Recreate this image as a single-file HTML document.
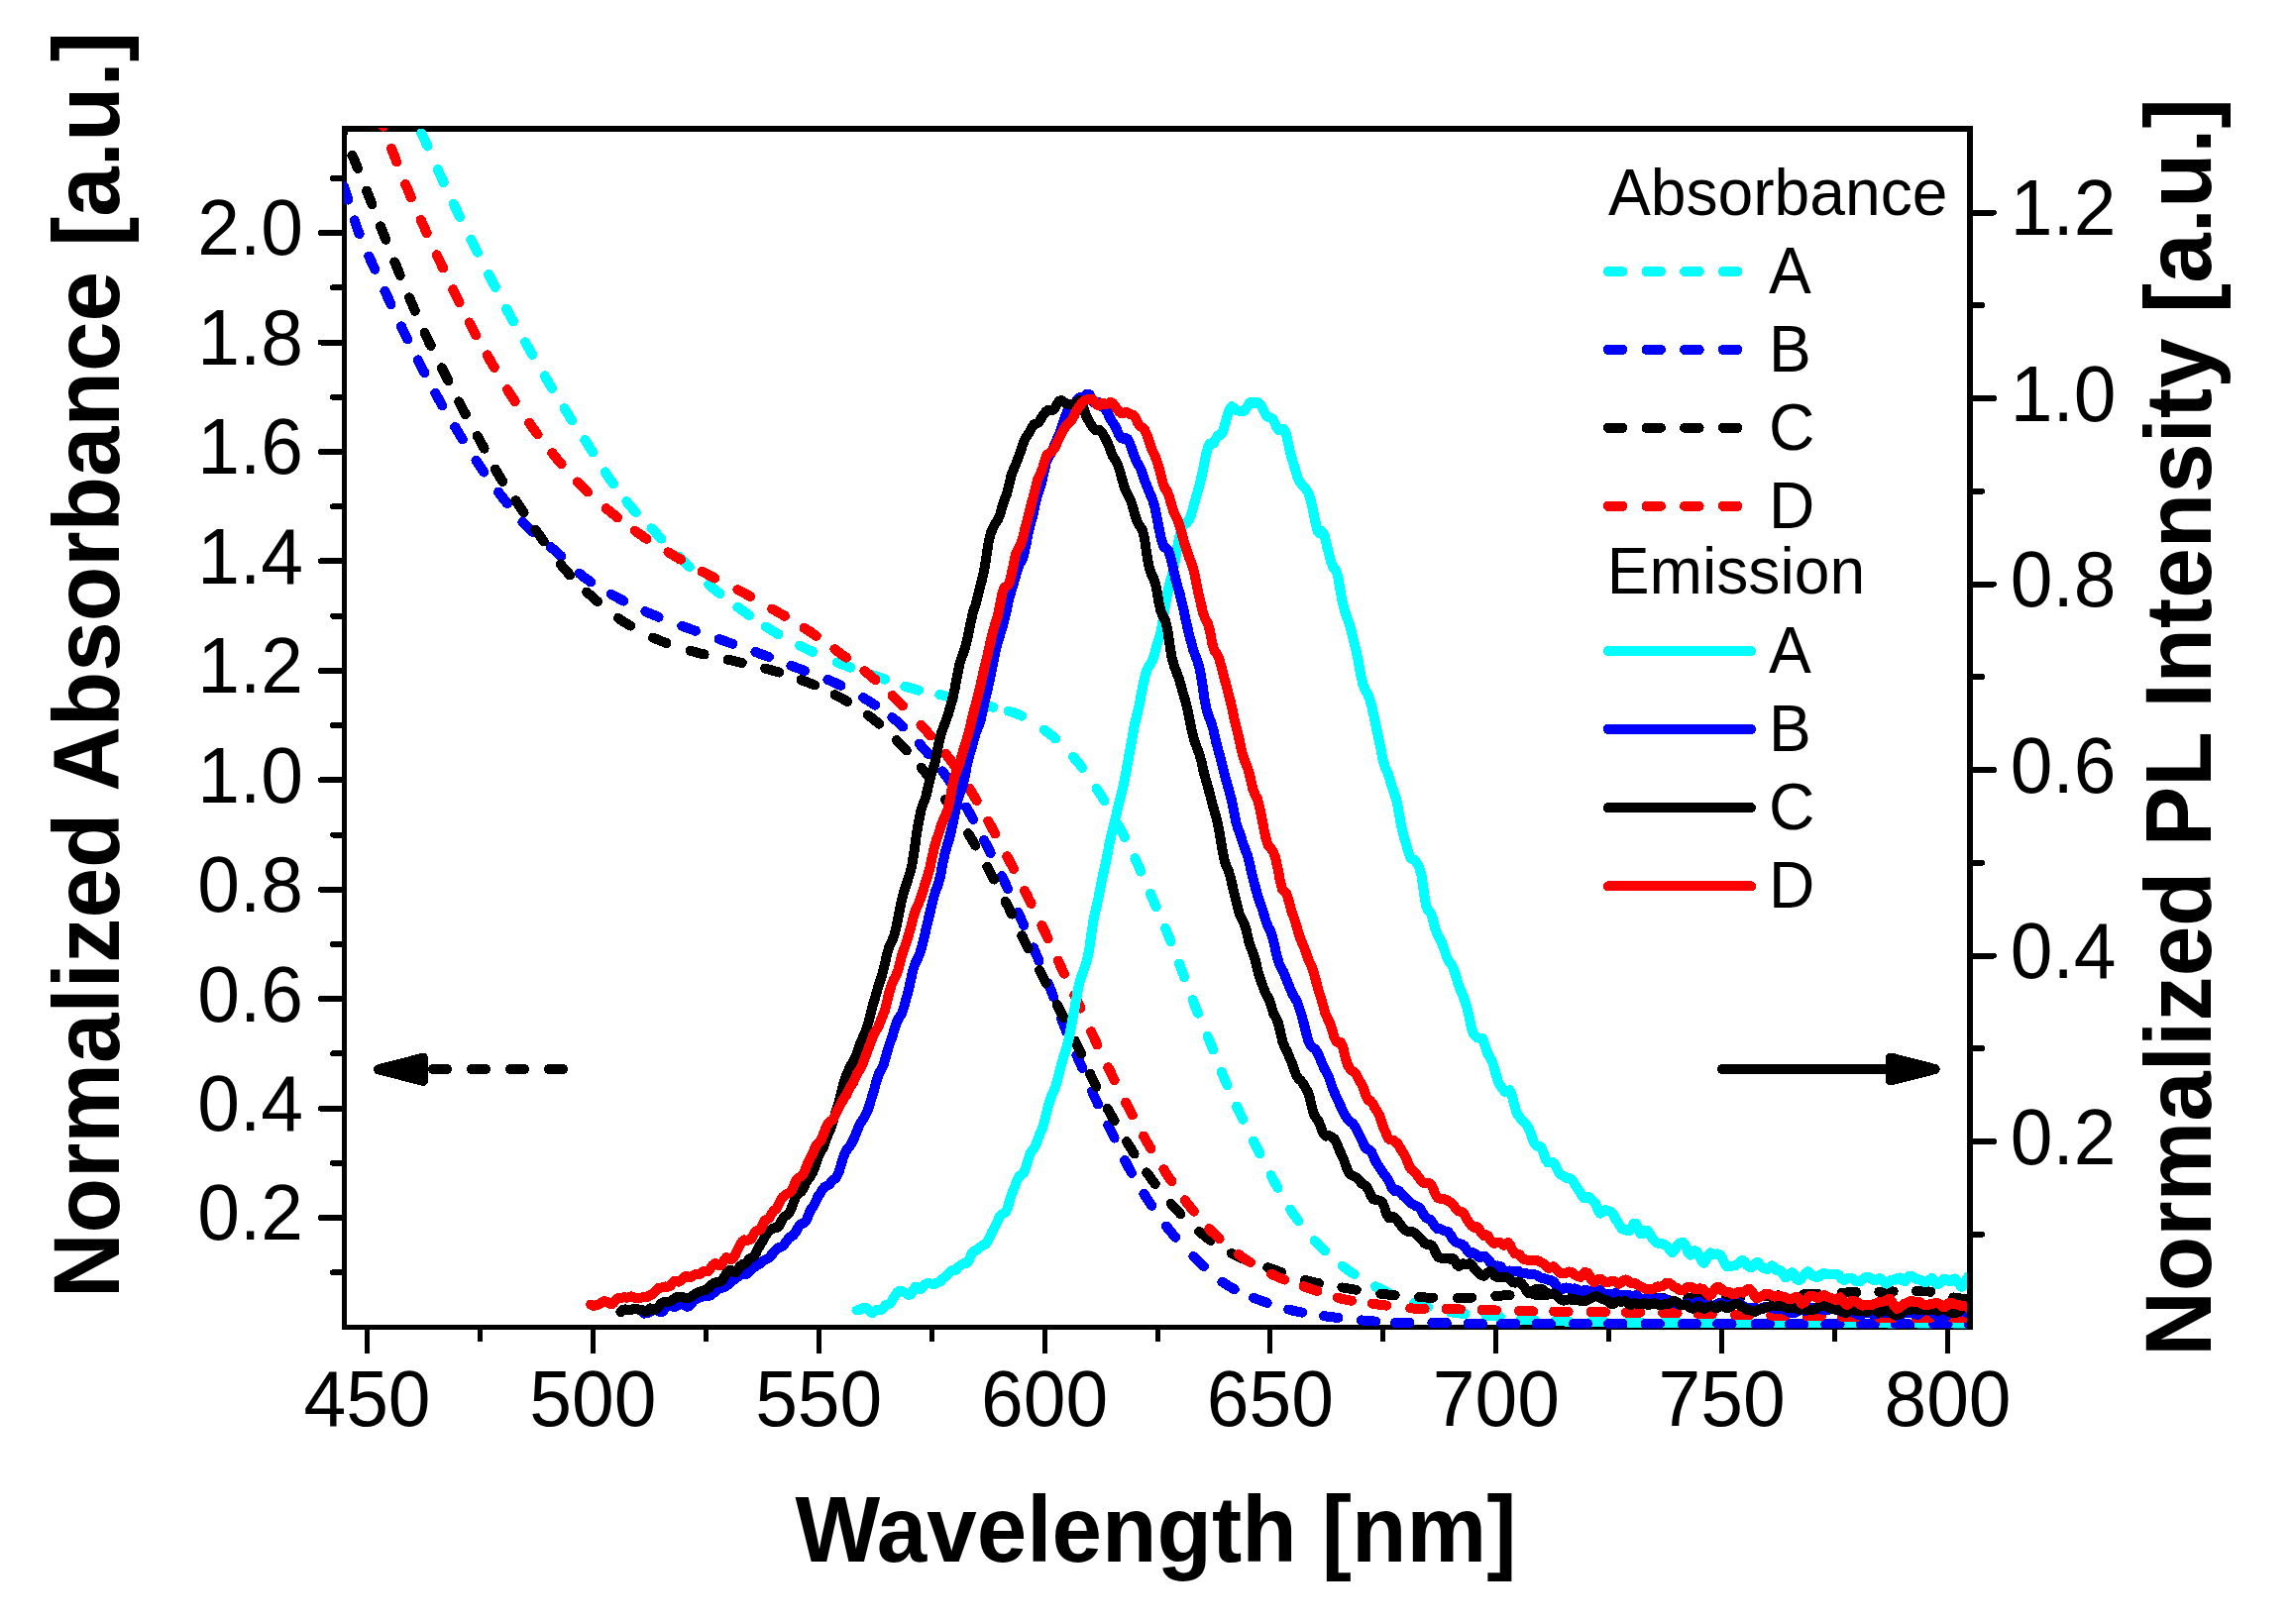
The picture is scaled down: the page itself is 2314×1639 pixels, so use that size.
<!DOCTYPE html>
<html><head><meta charset="utf-8"><title>Normalized Absorbance and PL Intensity vs Wavelength</title>
<style>
html,body{margin:0;padding:0;background:#fff;}
svg{display:block;}
text{font-family:"Liberation Sans",Arial,Helvetica,sans-serif;fill:#000;}
.tk{font-size:76.8px;}
.lg{font-size:64.2px;}
.ax{font-size:90.8px;font-weight:bold;}
.c{fill:none;stroke-width:10;stroke-linecap:round;stroke-linejoin:round;}
.th{stroke:#000;stroke-width:6;stroke-linecap:round;fill:none;}
.tv{stroke:#000;stroke-width:5;stroke-linecap:butt;fill:none;}
</style></head><body>
<svg width="2314" height="1639" viewBox="0 0 2314 1639" shape-rendering="crispEdges">
<rect width="2314" height="1639" fill="#fff"/>
<defs><clipPath id="cp"><rect x="347" y="129" width="1638" height="1211.4"/></clipPath></defs>

<g fill="#000"><rect x="345" y="127" width="5" height="1215"/><rect x="1985" y="127" width="6" height="1215"/><rect x="345" y="127" width="1646" height="6"/><rect x="345" y="1337" width="1646" height="5"/></g>
<path class="th" d="M347,1229.1 H323.9 M347,1118.6 H323.9 M347,1008.2 H323.9 M347,897.7 H323.9 M347,787.3 H323.9 M347,676.9 H323.9 M347,566.4 H323.9 M347,456.0 H323.9 M347,345.5 H323.9 M347,235.1 H323.9 M347,1284.3 H336 M347,1173.8 H336 M347,1063.4 H336 M347,953.0 H336 M347,842.5 H336 M347,732.1 H336 M347,621.6 H336 M347,511.2 H336 M347,400.8 H336 M347,290.3 H336 M347,179.9 H336 M1988,1152.0 H2011.9 M1988,964.5 H2011.9 M1988,777.0 H2011.9 M1988,589.5 H2011.9 M1988,402.0 H2011.9 M1988,214.5 H2011.9 M1988,1245.8 H2000 M1988,1058.2 H2000 M1988,870.8 H2000 M1988,683.2 H2000 M1988,495.8 H2000 M1988,308.2 H2000"/>
<path class="tv" d="M370.5,1340 V1366 M598.4,1340 V1366 M826.2,1340 V1366 M1054.1,1340 V1366 M1281.9,1340 V1366 M1509.8,1340 V1366 M1737.6,1340 V1366 M1965.5,1340 V1366 M484.4,1340 V1354 M712.3,1340 V1354 M940.1,1340 V1354 M1168.0,1340 V1354 M1395.8,1340 V1354 M1623.7,1340 V1354 M1851.5,1340 V1354"/>
<text class="tk" transform="translate(370.5,1439.3) scale(1,1.035)" text-anchor="middle">450</text>
<text class="tk" transform="translate(598.4,1439.3) scale(1,1.035)" text-anchor="middle">500</text>
<text class="tk" transform="translate(826.2,1439.3) scale(1,1.035)" text-anchor="middle">550</text>
<text class="tk" transform="translate(1054.1,1439.3) scale(1,1.035)" text-anchor="middle">600</text>
<text class="tk" transform="translate(1281.9,1439.3) scale(1,1.035)" text-anchor="middle">650</text>
<text class="tk" transform="translate(1509.8,1439.3) scale(1,1.035)" text-anchor="middle">700</text>
<text class="tk" transform="translate(1737.6,1439.3) scale(1,1.035)" text-anchor="middle">750</text>
<text class="tk" transform="translate(1965.5,1439.3) scale(1,1.035)" text-anchor="middle">800</text>
<text class="tk" transform="translate(306.0,1251.4) scale(1,1.035)" text-anchor="end">0.2</text>
<text class="tk" transform="translate(306.0,1140.9) scale(1,1.035)" text-anchor="end">0.4</text>
<text class="tk" transform="translate(306.0,1030.5) scale(1,1.035)" text-anchor="end">0.6</text>
<text class="tk" transform="translate(306.0,920.0) scale(1,1.035)" text-anchor="end">0.8</text>
<text class="tk" transform="translate(306.0,809.6) scale(1,1.035)" text-anchor="end">1.0</text>
<text class="tk" transform="translate(306.0,699.2) scale(1,1.035)" text-anchor="end">1.2</text>
<text class="tk" transform="translate(306.0,588.7) scale(1,1.035)" text-anchor="end">1.4</text>
<text class="tk" transform="translate(306.0,478.3) scale(1,1.035)" text-anchor="end">1.6</text>
<text class="tk" transform="translate(306.0,367.8) scale(1,1.035)" text-anchor="end">1.8</text>
<text class="tk" transform="translate(306.0,257.4) scale(1,1.035)" text-anchor="end">2.0</text>
<text class="tk" transform="translate(2028.8,1174.6) scale(1,1.035)">0.2</text>
<text class="tk" transform="translate(2028.8,987.1) scale(1,1.035)">0.4</text>
<text class="tk" transform="translate(2028.8,799.6) scale(1,1.035)">0.6</text>
<text class="tk" transform="translate(2028.8,612.1) scale(1,1.035)">0.8</text>
<text class="tk" transform="translate(2028.8,424.6) scale(1,1.035)">1.0</text>
<text class="tk" transform="translate(2028.8,237.1) scale(1,1.035)">1.2</text>
<text class="ax" transform="translate(1166.5,1575.9) scale(1,1.035)" text-anchor="middle">Wavelength [nm]</text>
<text class="ax" transform="translate(120.2,671.0) rotate(-90) scale(1,1.035)" text-anchor="middle">Normalized Absorbance [a.u.]</text>
<text class="ax" transform="translate(2231.2,734.0) rotate(-90) scale(1,1.035)" text-anchor="middle">Normalized PL Intensity [a.u.]</text>
<g clip-path="url(#cp)">
<path class="c" stroke="#00ffff" d="M425.1,134.5 L426.2,136.6 L427.3,138.8 L428.4,140.9 L429.4,143.1 L430.5,145.3 L431.5,147.4 L431.5,147.5 M441.8,171.0 L442.7,173.2 L443.7,175.3 L444.7,177.5 L445.7,179.7 L446.7,181.9 L447.7,184.1 L447.7,184.2 M457.8,205.8 L458.8,208.0 L459.8,210.2 L460.9,212.3 L461.9,214.5 L463.0,216.7 L464.0,218.8 L464.1,218.9 M475.4,241.7 L476.5,243.9 L477.6,246.0 L478.7,248.2 L479.8,250.3 L480.8,252.4 L481.9,254.6 L481.9,254.7 M493.2,277.0 L494.3,279.2 L495.4,281.3 L496.5,283.5 L497.6,285.6 L498.7,287.7 L499.8,289.9 L499.8,290.0 M511.1,311.7 L512.2,313.8 L513.3,315.9 L514.5,318.0 L515.6,320.1 L516.8,322.2 L518.0,324.3 L518.0,324.4 M530.0,345.3 L531.2,347.4 L532.4,349.5 L533.6,351.6 L534.8,353.6 L536.0,355.7 L537.2,357.8 L537.2,357.9 M549.6,379.4 L550.8,381.4 L552.0,383.5 L553.3,385.5 L554.5,387.6 L555.7,389.7 L557.0,391.7 L557.0,391.8 M569.5,412.2 L570.8,414.2 L572.1,416.2 L573.4,418.2 L574.7,420.3 L576.0,422.3 L577.3,424.3 L577.3,424.4 M590.3,444.1 L591.7,446.1 L593.0,448.2 L594.3,450.2 L595.6,452.2 L596.8,454.2 L598.1,456.3 L598.2,456.3 M610.7,476.4 L612.0,478.4 L613.3,480.4 L614.7,482.3 L616.0,484.3 L617.4,486.3 L618.8,488.2 L618.9,488.3 M632.4,506.1 L633.9,508.0 L635.4,509.8 L637.0,511.6 L638.5,513.5 L640.1,515.3 L641.7,517.0 L641.8,517.1 M657.4,533.3 L659.1,535.0 L660.8,536.7 L662.5,538.5 L664.1,540.2 L665.8,541.9 L667.5,543.6 L667.5,543.7 M685.4,562.0 L687.1,563.7 L688.8,565.4 L690.6,567.1 L692.3,568.7 L694.0,570.4 L695.8,572.1 L695.8,572.1 M715.2,589.9 L717.0,591.5 L718.8,593.0 L720.7,594.6 L722.5,596.1 L724.4,597.6 L726.3,599.1 L726.3,599.1 M744.4,612.6 L746.4,614.0 L748.3,615.4 L750.3,616.8 L752.2,618.2 L754.2,619.6 L756.1,621.0 L756.2,621.0 M773.0,632.5 L775.0,633.8 L777.0,635.1 L779.1,636.4 L781.1,637.6 L783.2,638.8 L785.3,640.0 L785.4,640.1 M807.1,651.6 L809.2,652.7 L811.4,653.7 L813.6,654.8 L815.7,655.8 L817.9,656.8 L820.1,657.8 L820.2,657.9 M844.8,668.6 L847.1,669.4 L849.3,670.3 L851.6,671.2 L853.8,672.0 L856.1,672.9 L858.3,673.7 L858.4,673.7 M879.7,680.9 L882.0,681.6 L884.3,682.4 L886.6,683.2 L888.8,684.0 L891.1,684.8 L893.3,685.6 L893.4,685.6 M913.4,692.7 L915.6,693.4 L917.9,694.1 L920.3,694.8 L922.6,695.4 L924.9,696.0 L927.2,696.6 L927.3,696.6 M948.2,701.1 L950.6,701.6 L952.9,702.2 L955.3,702.7 L957.6,703.2 L959.9,703.8 L962.3,704.3 L962.4,704.3 M988.3,710.4 L990.6,710.9 L992.9,711.5 L995.3,712.1 L997.6,712.7 L999.9,713.2 L1002.3,713.8 L1002.4,713.8 M1017.6,717.6 L1019.9,718.3 L1022.2,719.0 L1024.5,719.8 L1026.7,720.7 L1028.9,721.6 L1031.1,722.6 L1031.2,722.6 M1053.8,736.6 L1055.7,738.0 L1057.7,739.4 L1059.6,740.9 L1061.4,742.4 L1063.3,743.9 L1065.1,745.5 L1065.2,745.5 M1083.0,763.8 L1084.6,765.6 L1086.1,767.4 L1087.7,769.3 L1089.2,771.1 L1090.7,773.0 L1092.2,774.9 L1092.2,775.0 M1106.7,795.8 L1108.0,797.8 L1109.3,799.8 L1110.6,801.9 L1111.9,803.9 L1113.1,805.9 L1114.4,808.0 L1114.4,808.1 M1128.2,832.0 L1129.3,834.1 L1130.5,836.3 L1131.6,838.4 L1132.7,840.5 L1133.8,842.6 L1134.9,844.8 L1134.9,844.9 M1145.5,866.4 L1146.5,868.6 L1147.5,870.8 L1148.5,873.0 L1149.5,875.2 L1150.4,877.4 L1151.4,879.6 L1151.5,879.6 M1161.0,902.0 L1161.9,904.2 L1162.8,906.4 L1163.8,908.6 L1164.7,910.8 L1165.7,913.0 L1166.6,915.2 L1166.7,915.3 M1175.9,936.8 L1176.9,939.0 L1177.8,941.3 L1178.7,943.5 L1179.6,945.7 L1180.5,947.9 L1181.4,950.2 L1181.4,950.3 M1190.0,972.5 L1190.9,974.8 L1191.7,977.0 L1192.6,979.3 L1193.4,981.5 L1194.3,983.8 L1195.1,986.0 L1195.1,986.1 M1203.6,1009.2 L1204.5,1011.4 L1205.3,1013.7 L1206.2,1015.9 L1207.1,1018.1 L1208.0,1020.4 L1208.9,1022.6 L1208.9,1022.7 M1218.6,1045.9 L1219.6,1048.1 L1220.5,1050.4 L1221.4,1052.6 L1222.3,1054.8 L1223.2,1057.0 L1224.0,1059.3 L1224.1,1059.4 M1232.8,1081.8 L1233.7,1084.1 L1234.7,1086.3 L1235.6,1088.5 L1236.5,1090.7 L1237.5,1092.9 L1238.4,1095.1 L1238.5,1095.2 M1248.1,1116.6 L1249.1,1118.8 L1250.2,1121.0 L1251.2,1123.1 L1252.2,1125.3 L1253.2,1127.5 L1254.3,1129.7 L1254.3,1129.7 M1265.0,1151.5 L1266.0,1153.7 L1267.1,1155.8 L1268.2,1158.0 L1269.3,1160.1 L1270.3,1162.2 L1271.4,1164.4 L1271.4,1164.5 M1282.6,1186.2 L1283.7,1188.3 L1284.8,1190.4 L1286.0,1192.5 L1287.1,1194.6 L1288.3,1196.7 L1289.5,1198.8 L1289.5,1198.9 M1302.2,1220.5 L1303.5,1222.6 L1304.8,1224.6 L1306.2,1226.5 L1307.6,1228.5 L1309.0,1230.4 L1310.4,1232.4 L1310.5,1232.4 M1326.8,1252.2 L1328.4,1253.9 L1330.1,1255.6 L1331.8,1257.4 L1333.5,1259.0 L1335.2,1260.7 L1336.9,1262.4 L1337.0,1262.4 M1354.8,1277.7 L1356.8,1279.2 L1358.7,1280.6 L1360.7,1282.0 L1362.6,1283.3 L1364.6,1284.7 L1366.6,1286.0 L1366.7,1286.0 M1388.1,1298.4 L1390.2,1299.5 L1392.4,1300.5 L1394.6,1301.6 L1396.7,1302.6 L1398.9,1303.6 L1401.1,1304.6 L1401.2,1304.7 M1427.0,1315.2 L1429.3,1315.9 L1431.5,1316.6 L1433.9,1317.3 L1436.2,1317.9 L1438.5,1318.5 L1440.8,1319.2 L1440.9,1319.2 M1464.0,1324.2 L1466.4,1324.6 L1468.8,1324.9 L1471.2,1325.2 L1473.5,1325.5 L1475.9,1325.7 L1478.3,1325.9 L1478.4,1325.9 M1499.4,1327.5 L1501.8,1327.7 L1504.2,1327.9 L1506.6,1328.1 L1508.9,1328.3 L1511.3,1328.6 L1513.7,1328.9 L1513.8,1328.9 M1534.8,1331.4 L1537.2,1331.7 L1539.6,1331.8 L1542.0,1332.0 L1544.3,1332.1 L1546.7,1332.3 L1549.1,1332.4 L1549.2,1332.4 M1569.1,1333.2 L1571.5,1333.3 L1573.9,1333.4 L1576.3,1333.4 L1578.6,1333.5 L1581.0,1333.6 L1583.4,1333.7 L1583.5,1333.7 M1605.9,1334.1 L1608.3,1334.1 L1610.7,1334.2 L1613.1,1334.2 L1615.4,1334.2 L1617.8,1334.3 L1620.2,1334.3 L1620.3,1334.3 M1642.4,1334.6 L1644.8,1334.6 L1647.2,1334.6 L1649.6,1334.7 L1651.9,1334.7 L1654.3,1334.7 L1656.7,1334.7 L1656.8,1334.7 M1679.1,1334.9 L1681.5,1334.9 L1683.9,1334.9 L1686.3,1334.9 L1688.6,1335.0 L1691.0,1335.0 L1693.4,1335.0 L1693.5,1335.0 M1715.5,1335.0 L1717.9,1335.1 L1720.3,1335.1 L1722.7,1335.1 L1725.0,1335.1 L1727.4,1335.1 L1729.8,1335.1 L1729.9,1335.1 M1752.2,1335.2 L1754.6,1335.2 L1757.0,1335.2 L1759.4,1335.2 L1761.7,1335.2 L1764.1,1335.2 L1766.5,1335.2 L1766.6,1335.2 M1788.8,1335.3 L1791.2,1335.3 L1793.6,1335.3 L1796.0,1335.3 L1798.3,1335.3 L1800.7,1335.3 L1803.1,1335.3 L1803.2,1335.3 M1825.5,1335.3 L1827.9,1335.3 L1830.3,1335.3 L1832.7,1335.3 L1835.0,1335.3 L1837.4,1335.4 L1839.8,1335.4 L1839.9,1335.4 M1861.8,1335.4 L1864.2,1335.4 L1866.6,1335.4 L1869.0,1335.4 L1871.3,1335.4 L1873.7,1335.4 L1876.1,1335.4 L1876.2,1335.4 M1898.2,1335.4 L1900.6,1335.4 L1903.0,1335.4 L1905.4,1335.5 L1907.7,1335.5 L1910.1,1335.5 L1912.5,1335.5 L1912.6,1335.5 M1934.9,1335.5 L1937.3,1335.5 L1939.7,1335.5 L1942.1,1335.5 L1944.4,1335.5 L1946.8,1335.5 L1949.2,1335.5 L1949.3,1335.5 M1971.4,1335.5 L1973.8,1335.5 L1976.2,1335.5 L1978.6,1335.5 L1980.9,1335.5 L1983.3,1335.5 L1985.7,1335.5 L1985.8,1335.5"/>
<path class="c" stroke="#0000ff" d="M334.1,151.8 L334.9,154.1 L335.7,156.4 L336.5,158.6 L337.3,160.9 L338.1,163.2 L338.9,165.4 L338.9,165.5 M346.8,187.9 L347.6,190.1 L348.4,192.4 L349.2,194.7 L349.9,197.0 L350.7,199.3 L351.4,201.5 L351.4,201.6 M357.8,222.4 L358.5,224.7 L359.3,226.9 L360.1,229.2 L360.9,231.5 L361.7,233.7 L362.6,235.9 L362.7,236.0 M372.3,258.6 L373.3,260.8 L374.3,263.0 L375.3,265.2 L376.3,267.3 L377.2,269.5 L378.2,271.7 L378.3,271.8 M388.4,293.9 L389.5,296.1 L390.5,298.3 L391.5,300.5 L392.5,302.6 L393.5,304.8 L394.5,307.0 L394.5,307.1 M404.9,329.3 L405.9,331.5 L406.9,333.7 L408.0,335.8 L409.0,338.0 L410.1,340.2 L411.1,342.3 L411.2,342.4 M421.7,363.4 L422.8,365.6 L423.9,367.7 L425.0,369.8 L426.1,372.0 L427.2,374.1 L428.3,376.2 L428.3,376.3 M439.3,396.8 L440.4,398.9 L441.6,401.0 L442.8,403.0 L444.0,405.1 L445.1,407.2 L446.3,409.3 L446.4,409.4 M459.2,430.9 L460.5,433.0 L461.7,435.0 L463.0,437.1 L464.2,439.1 L465.5,441.1 L466.8,443.2 L466.8,443.3 M480.4,464.6 L481.7,466.6 L483.0,468.6 L484.4,470.5 L485.7,472.5 L487.1,474.5 L488.4,476.5 L488.5,476.6 M503.1,496.7 L504.5,498.7 L506.0,500.6 L507.5,502.5 L508.9,504.3 L510.4,506.2 L511.9,508.1 L512.0,508.2 M527.3,526.7 L528.9,528.5 L530.6,530.2 L532.3,531.9 L534.0,533.6 L535.7,535.3 L537.5,536.9 L537.6,537.0 M555.6,551.9 L557.4,553.5 L559.3,555.0 L561.1,556.6 L562.9,558.2 L564.6,559.8 L566.4,561.4 L566.4,561.5 M584.7,578.8 L586.6,580.3 L588.4,581.8 L590.4,583.2 L592.3,584.7 L594.3,586.0 L596.2,587.4 L596.3,587.5 M616.7,599.7 L618.8,600.9 L620.9,602.0 L623.1,603.2 L625.2,604.3 L627.3,605.4 L629.4,606.5 L629.5,606.6 M651.3,617.1 L653.5,618.1 L655.7,619.0 L657.9,620.0 L660.1,620.9 L662.3,621.8 L664.5,622.7 L664.6,622.8 M688.3,631.8 L690.5,632.6 L692.8,633.5 L695.1,634.3 L697.3,635.1 L699.6,635.9 L701.8,636.7 L701.9,636.8 M725.7,645.0 L727.9,645.8 L730.2,646.6 L732.5,647.4 L734.7,648.2 L737.0,649.0 L739.2,649.8 L739.3,649.8 M762.3,658.0 L764.5,658.8 L766.8,659.7 L769.1,660.5 L771.3,661.3 L773.5,662.2 L775.8,663.0 L775.9,663.0 M798.4,671.8 L800.7,672.6 L802.9,673.5 L805.2,674.4 L807.4,675.2 L809.6,676.1 L811.9,676.9 L812.0,677.0 M835.3,685.9 L837.5,686.9 L839.7,687.8 L841.9,688.8 L844.0,689.8 L846.2,690.8 L848.4,691.8 L848.5,691.9 M871.0,704.0 L873.1,705.3 L875.1,706.5 L877.2,707.8 L879.2,709.1 L881.2,710.3 L883.2,711.7 L883.3,711.7 M900.3,724.0 L902.2,725.5 L904.0,727.0 L905.9,728.6 L907.7,730.2 L909.5,731.8 L911.2,733.4 L911.3,733.5 M927.8,750.6 L929.4,752.4 L931.0,754.2 L932.6,756.0 L934.2,757.8 L935.7,759.6 L937.3,761.4 L937.4,761.5 M951.0,778.3 L952.4,780.2 L953.9,782.1 L955.3,784.1 L956.7,786.0 L958.0,788.0 L959.4,790.0 L959.5,790.1 M974.9,814.5 L976.2,816.5 L977.4,818.6 L978.6,820.7 L979.8,822.8 L980.9,824.9 L982.1,827.0 L982.2,827.0 M993.1,847.9 L994.2,850.1 L995.3,852.2 L996.4,854.4 L997.5,856.5 L998.5,858.6 L999.6,860.8 L999.7,860.9 M1011.0,884.1 L1012.0,886.2 L1013.1,888.4 L1014.1,890.6 L1015.1,892.8 L1016.1,894.9 L1017.1,897.1 L1017.1,897.2 M1027.4,920.7 L1028.4,922.9 L1029.3,925.1 L1030.3,927.3 L1031.2,929.5 L1032.2,931.7 L1033.2,933.9 L1033.2,934.0 M1042.9,956.3 L1043.8,958.5 L1044.7,960.8 L1045.7,963.0 L1046.6,965.2 L1047.5,967.4 L1048.5,969.6 L1048.5,969.7 M1058.0,992.7 L1058.8,994.9 L1059.7,997.2 L1060.6,999.4 L1061.4,1001.6 L1062.3,1003.9 L1063.1,1006.1 L1063.2,1006.2 M1071.0,1027.9 L1071.8,1030.1 L1072.7,1032.4 L1073.6,1034.6 L1074.5,1036.8 L1075.4,1039.0 L1076.3,1041.3 L1076.3,1041.4 M1086.4,1064.7 L1087.4,1066.9 L1088.3,1069.1 L1089.3,1071.3 L1090.2,1073.5 L1091.2,1075.7 L1092.1,1077.9 L1092.1,1078.0 M1102.0,1101.3 L1103.0,1103.5 L1104.0,1105.7 L1105.0,1107.9 L1106.0,1110.1 L1107.0,1112.3 L1108.0,1114.4 L1108.1,1114.5 M1118.3,1135.5 L1119.4,1137.7 L1120.4,1139.8 L1121.5,1142.0 L1122.5,1144.1 L1123.5,1146.3 L1124.6,1148.5 L1124.6,1148.6 M1135.2,1171.0 L1136.3,1173.2 L1137.4,1175.3 L1138.5,1177.4 L1139.6,1179.5 L1140.8,1181.6 L1141.9,1183.7 L1142.0,1183.8 M1154.4,1204.8 L1155.7,1206.8 L1157.0,1208.8 L1158.3,1210.8 L1159.6,1212.9 L1160.9,1214.9 L1162.2,1216.9 L1162.3,1216.9 M1177.0,1237.6 L1178.5,1239.5 L1180.0,1241.4 L1181.5,1243.2 L1183.0,1245.1 L1184.5,1246.9 L1186.1,1248.7 L1186.2,1248.8 M1204.3,1268.1 L1206.1,1269.8 L1207.8,1271.4 L1209.6,1273.1 L1211.3,1274.7 L1213.1,1276.3 L1214.8,1278.0 L1214.9,1278.0 M1233.4,1293.7 L1235.4,1295.1 L1237.4,1296.4 L1239.5,1297.7 L1241.5,1298.9 L1243.6,1300.0 L1245.7,1301.2 L1245.8,1301.2 M1265.1,1309.8 L1267.4,1310.7 L1269.6,1311.5 L1271.9,1312.4 L1274.1,1313.2 L1276.4,1314.0 L1278.6,1314.8 L1278.7,1314.9 M1300.1,1321.5 L1302.5,1322.1 L1304.8,1322.7 L1307.2,1323.2 L1309.5,1323.7 L1311.9,1324.2 L1314.2,1324.6 L1314.3,1324.6 M1336.0,1328.1 L1338.4,1328.5 L1340.8,1328.8 L1343.2,1329.1 L1345.5,1329.4 L1347.9,1329.7 L1350.3,1330.0 L1350.4,1330.0 M1373.7,1332.4 L1376.1,1332.6 L1378.5,1332.8 L1380.9,1333.0 L1383.2,1333.2 L1385.6,1333.4 L1388.0,1333.6 L1388.1,1333.6 M1408.1,1334.9 L1410.5,1334.9 L1412.9,1335.0 L1415.3,1335.0 L1417.6,1335.0 L1420.0,1335.0 L1422.4,1335.0 L1422.5,1335.0 M1445.4,1335.0 L1447.8,1335.0 L1450.2,1335.0 L1452.6,1335.0 L1454.9,1335.0 L1457.3,1335.1 L1459.7,1335.1 L1459.8,1335.1 M1481.7,1335.9 L1484.1,1335.9 L1486.5,1336.0 L1488.9,1336.0 L1491.2,1336.0 L1493.6,1336.0 L1496.0,1336.0 L1496.1,1336.0 M1515.1,1336.0 L1517.5,1336.0 L1519.9,1336.0 L1522.3,1336.0 L1524.6,1336.0 L1527.0,1336.0 L1529.4,1336.0 L1529.5,1336.0 M1550.5,1336.0 L1552.9,1336.0 L1555.3,1336.0 L1557.7,1336.0 L1560.0,1336.0 L1562.4,1336.0 L1564.8,1336.0 L1564.9,1336.0 M1587.8,1336.0 L1590.2,1336.0 L1592.6,1336.0 L1595.0,1336.0 L1597.3,1336.0 L1599.7,1336.0 L1602.1,1336.0 L1602.2,1336.0 M1623.2,1336.0 L1625.6,1336.0 L1628.0,1336.0 L1630.4,1336.0 L1632.7,1336.0 L1635.1,1336.0 L1637.5,1336.0 L1637.6,1336.0 M1660.5,1336.1 L1662.9,1336.1 L1665.3,1336.1 L1667.7,1336.1 L1670.0,1336.1 L1672.4,1336.1 L1674.8,1336.1 L1674.9,1336.1 M1697.8,1336.1 L1700.2,1336.1 L1702.6,1336.1 L1705.0,1336.1 L1707.3,1336.1 L1709.7,1336.1 L1712.1,1336.1 L1712.2,1336.1 M1733.2,1336.1 L1735.6,1336.1 L1738.0,1336.1 L1740.4,1336.1 L1742.7,1336.1 L1745.1,1336.1 L1747.5,1336.1 L1747.6,1336.1 M1771.5,1336.2 L1773.9,1336.2 L1776.3,1336.2 L1778.7,1336.2 L1781.0,1336.2 L1783.4,1336.2 L1785.8,1336.2 L1785.9,1336.2 M1805.8,1336.2 L1808.2,1336.2 L1810.6,1336.2 L1813.0,1336.2 L1815.3,1336.2 L1817.7,1336.2 L1820.1,1336.2 L1820.2,1336.2 M1842.2,1336.3 L1844.6,1336.3 L1847.0,1336.3 L1849.4,1336.3 L1851.7,1336.3 L1854.1,1336.3 L1856.5,1336.3 L1856.6,1336.3 M1877.5,1336.3 L1879.9,1336.3 L1882.3,1336.4 L1884.7,1336.4 L1887.0,1336.4 L1889.4,1336.4 L1891.8,1336.4 L1891.9,1336.4 M1912.9,1336.4 L1915.3,1336.4 L1917.7,1336.4 L1920.1,1336.4 L1922.4,1336.4 L1924.8,1336.4 L1927.2,1336.4 L1927.3,1336.4 M1951.2,1336.5 L1953.6,1336.5 L1956.0,1336.5 L1958.4,1336.5 L1960.7,1336.5 L1963.1,1336.5 L1965.5,1336.5 L1965.6,1336.5 M1986.8,1336.6 L1989.2,1336.6 L1991.6,1336.6 L1994.0,1336.6 L1995.0,1336.6 L1995.0,1336.6 L1995.0,1336.6 L1995.0,1336.6"/>
<path class="c" stroke="#000000" d="M340.3,121.2 L341.2,123.4 L342.1,125.7 L343.0,127.9 L343.9,130.1 L344.8,132.3 L345.7,134.5 L345.8,134.6 M355.4,156.6 L356.4,158.8 L357.3,161.0 L358.3,163.2 L359.2,165.4 L360.1,167.6 L361.0,169.9 L361.1,169.9 M370.1,192.6 L370.9,194.8 L371.8,197.0 L372.7,199.3 L373.6,201.5 L374.4,203.7 L375.3,206.0 L375.3,206.1 M384.0,228.3 L384.8,230.6 L385.7,232.8 L386.6,235.0 L387.5,237.3 L388.3,239.5 L389.2,241.7 L389.3,241.8 M398.3,264.5 L399.2,266.7 L400.1,268.9 L401.0,271.1 L401.9,273.4 L402.8,275.6 L403.7,277.8 L403.7,277.9 M413.1,300.4 L414.0,302.6 L414.9,304.8 L415.9,307.0 L416.8,309.2 L417.8,311.5 L418.7,313.7 L418.8,313.7 M428.6,335.8 L429.6,338.0 L430.6,340.2 L431.6,342.3 L432.6,344.5 L433.6,346.7 L434.7,348.8 L434.7,348.9 M445.8,371.2 L446.9,373.4 L448.0,375.5 L449.1,377.7 L450.2,379.8 L451.2,382.0 L452.3,384.1 L452.3,384.2 M463.1,405.4 L464.2,407.5 L465.3,409.6 L466.4,411.7 L467.5,413.9 L468.6,416.0 L469.8,418.1 L469.8,418.2 M481.7,440.0 L482.9,442.1 L484.0,444.2 L485.2,446.3 L486.3,448.4 L487.5,450.5 L488.6,452.6 L488.6,452.7 M499.8,473.5 L501.0,475.6 L502.2,477.7 L503.5,479.7 L504.7,481.8 L506.0,483.8 L507.3,485.8 L507.3,485.9 M520.4,505.2 L521.8,507.2 L523.1,509.2 L524.5,511.2 L525.8,513.2 L527.2,515.1 L528.5,517.1 L528.6,517.2 M540.3,534.6 L541.7,536.5 L543.1,538.5 L544.5,540.5 L545.9,542.4 L547.3,544.4 L548.6,546.3 L548.7,546.4 M565.7,569.4 L567.2,571.3 L568.7,573.1 L570.3,574.9 L571.8,576.7 L573.5,578.5 L575.1,580.3 L575.1,580.4 M592.3,597.5 L594.1,599.2 L595.9,600.8 L597.7,602.4 L599.5,604.0 L601.3,605.5 L603.1,607.1 L603.1,607.2 M623.9,623.8 L625.8,625.1 L627.8,626.5 L629.9,627.8 L631.9,629.0 L633.9,630.3 L636.0,631.5 L636.1,631.6 M659.1,643.6 L661.3,644.5 L663.5,645.5 L665.8,646.4 L668.0,647.3 L670.2,648.1 L672.5,649.0 L672.6,649.0 M696.7,656.8 L699.0,657.4 L701.3,658.1 L703.7,658.7 L706.0,659.3 L708.3,659.9 L710.6,660.4 L710.7,660.5 M734.6,665.7 L737.0,666.2 L739.3,666.7 L741.7,667.3 L744.0,667.8 L746.3,668.4 L748.7,668.9 L748.8,668.9 M772.1,674.6 L774.4,675.2 L776.7,675.8 L779.1,676.5 L781.4,677.2 L783.7,677.8 L786.0,678.5 L786.1,678.6 M808.6,686.2 L810.9,687.1 L813.1,687.9 L815.4,688.8 L817.6,689.7 L819.8,690.6 L822.0,691.5 L822.1,691.5 M842.5,701.1 L844.6,702.2 L846.7,703.3 L848.9,704.5 L851.0,705.6 L853.0,706.8 L855.1,708.0 L855.2,708.1 M875.8,721.7 L877.7,723.2 L879.7,724.6 L881.6,726.1 L883.4,727.6 L885.3,729.1 L887.2,730.6 L887.2,730.7 M904.8,747.0 L906.5,748.7 L908.2,750.5 L909.9,752.2 L911.5,753.9 L913.2,755.6 L914.8,757.4 L914.9,757.5 M929.6,774.6 L931.2,776.4 L932.7,778.3 L934.2,780.2 L935.7,782.1 L937.1,784.0 L938.6,785.9 L938.6,785.9 M953.9,807.0 L955.2,809.0 L956.6,811.0 L958.0,813.0 L959.3,814.9 L960.7,816.9 L962.1,818.9 L962.1,819.0 M977.0,841.2 L978.3,843.2 L979.5,845.2 L980.8,847.3 L982.0,849.3 L983.2,851.4 L984.4,853.5 L984.5,853.6 M996.3,874.8 L997.4,876.9 L998.5,879.0 L999.7,881.2 L1000.8,883.3 L1001.9,885.4 L1003.1,887.5 L1003.1,887.6 M1014.6,909.6 L1015.7,911.8 L1016.8,913.9 L1017.9,916.1 L1018.9,918.2 L1020.0,920.4 L1021.0,922.5 L1021.1,922.6 M1031.3,944.3 L1032.4,946.4 L1033.4,948.6 L1034.5,950.7 L1035.5,952.9 L1036.6,955.0 L1037.7,957.2 L1037.7,957.3 M1049.0,979.2 L1050.1,981.3 L1051.2,983.4 L1052.3,985.6 L1053.4,987.7 L1054.5,989.8 L1055.5,992.0 L1055.6,992.1 M1066.7,1014.0 L1067.8,1016.2 L1068.9,1018.3 L1070.0,1020.5 L1071.1,1022.6 L1072.1,1024.7 L1073.2,1026.9 L1073.2,1027.0 M1084.9,1050.5 L1085.9,1052.6 L1087.0,1054.8 L1088.0,1057.0 L1089.0,1059.2 L1090.0,1061.3 L1091.0,1063.5 L1091.0,1063.6 M1100.1,1083.7 L1101.1,1085.9 L1102.1,1088.1 L1103.2,1090.2 L1104.2,1092.4 L1105.3,1094.5 L1106.3,1096.7 L1106.4,1096.8 M1117.6,1118.6 L1118.8,1120.7 L1119.9,1122.8 L1121.1,1124.9 L1122.2,1127.0 L1123.4,1129.1 L1124.6,1131.2 L1124.6,1131.3 M1137.0,1152.2 L1138.2,1154.3 L1139.5,1156.3 L1140.8,1158.3 L1142.1,1160.4 L1143.3,1162.4 L1144.6,1164.4 L1144.7,1164.5 M1157.3,1183.3 L1158.7,1185.3 L1160.1,1187.2 L1161.5,1189.1 L1162.9,1191.1 L1164.3,1193.0 L1165.8,1194.9 L1165.8,1195.0 M1181.6,1214.7 L1183.1,1216.5 L1184.7,1218.3 L1186.4,1220.0 L1188.0,1221.8 L1189.7,1223.5 L1191.3,1225.3 L1191.4,1225.3 M1210.2,1243.1 L1212.1,1244.6 L1214.0,1246.1 L1215.9,1247.6 L1217.8,1249.0 L1219.7,1250.4 L1221.7,1251.8 L1221.8,1251.9 M1242.8,1265.0 L1244.9,1266.1 L1247.1,1267.1 L1249.3,1268.2 L1251.4,1269.2 L1253.6,1270.1 L1255.9,1271.0 L1256.0,1271.1 M1279.3,1279.3 L1281.6,1280.1 L1283.9,1280.8 L1286.2,1281.6 L1288.4,1282.4 L1290.7,1283.2 L1293.0,1283.9 L1293.0,1284.0 M1316.9,1291.9 L1319.2,1292.5 L1321.5,1293.1 L1323.9,1293.7 L1326.2,1294.2 L1328.5,1294.7 L1330.9,1295.2 L1331.0,1295.2 M1354.4,1299.4 L1356.8,1299.8 L1359.2,1300.2 L1361.6,1300.6 L1363.9,1301.0 L1366.3,1301.4 L1368.7,1301.8 L1368.7,1301.8 M1393.3,1305.7 L1395.7,1306.0 L1398.1,1306.2 L1400.5,1306.5 L1402.8,1306.7 L1405.2,1307.0 L1407.6,1307.2 L1407.7,1307.2 M1432.0,1309.2 L1434.4,1309.4 L1436.8,1309.4 L1439.2,1309.5 L1441.5,1309.5 L1443.9,1309.6 L1446.3,1309.6 L1446.4,1309.6 M1470.9,1309.9 L1473.3,1309.9 L1475.7,1309.9 L1478.1,1309.9 L1480.4,1309.9 L1482.8,1309.8 L1485.2,1309.7 L1485.3,1309.7 M1509.2,1307.9 L1511.6,1307.8 L1514.0,1307.6 L1516.4,1307.5 L1518.7,1307.4 L1521.1,1307.3 L1523.5,1307.2 L1523.6,1307.2 M1547.8,1306.5 L1550.2,1306.5 L1552.6,1306.5 L1555.0,1306.6 L1557.3,1306.6 L1559.7,1306.7 L1562.1,1306.7 L1562.2,1306.7 M1586.7,1307.7 L1589.1,1307.8 L1591.5,1307.9 L1593.9,1308.1 L1596.2,1308.2 L1598.6,1308.3 L1601.0,1308.4 L1601.1,1308.4 M1625.6,1309.1 L1628.0,1309.1 L1630.4,1309.2 L1632.8,1309.2 L1635.1,1309.3 L1637.5,1309.3 L1639.9,1309.4 L1640.0,1309.4 M1664.4,1309.7 L1666.8,1309.8 L1669.2,1309.8 L1671.6,1309.8 L1673.9,1309.9 L1676.3,1309.9 L1678.7,1309.9 L1678.8,1309.9 M1703.3,1310.0 L1705.7,1310.0 L1708.1,1310.0 L1710.5,1309.9 L1712.8,1309.9 L1715.2,1309.9 L1717.6,1309.8 L1717.7,1309.8 M1742.2,1309.2 L1744.6,1309.2 L1747.0,1309.1 L1749.4,1309.0 L1751.7,1308.9 L1754.1,1308.9 L1756.5,1308.8 L1756.6,1308.8 M1781.1,1308.0 L1783.5,1307.9 L1785.9,1307.8 L1788.3,1307.7 L1790.6,1307.6 L1793.0,1307.5 L1795.4,1307.4 L1795.5,1307.4 M1819.9,1306.3 L1822.3,1306.2 L1824.7,1306.1 L1827.1,1306.0 L1829.4,1305.9 L1831.8,1305.8 L1834.2,1305.7 L1834.3,1305.7 M1858.8,1304.7 L1861.2,1304.6 L1863.6,1304.5 L1866.0,1304.4 L1868.3,1304.4 L1870.7,1304.3 L1873.1,1304.2 L1873.2,1304.2 M1896.3,1303.7 L1898.7,1303.6 L1901.1,1303.6 L1903.5,1303.5 L1905.8,1303.5 L1908.2,1303.4 L1910.6,1303.4 L1910.7,1303.4 M1933.8,1303.0 L1936.2,1303.0 L1938.6,1303.0 L1941.0,1303.0 L1943.3,1303.2 L1945.7,1303.4 L1948.1,1303.7 L1948.2,1303.8 M1971.4,1309.4 L1973.7,1309.8 L1976.1,1310.2 L1978.5,1310.5 L1980.8,1310.8 L1983.2,1311.1 L1985.6,1311.3 L1985.7,1311.3"/>
<path class="c" stroke="#ff0000" d="M381.5,114.1 L382.4,116.3 L383.2,118.5 L384.1,120.8 L384.9,123.0 L385.8,125.3 L386.7,127.5 L386.7,127.6 M395.0,149.8 L395.9,152.0 L396.7,154.3 L397.6,156.5 L398.4,158.8 L399.3,161.0 L400.2,163.2 L400.2,163.3 M409.2,186.0 L410.1,188.2 L411.1,190.4 L412.0,192.6 L412.9,194.8 L413.8,197.1 L414.8,199.3 L414.8,199.4 M424.7,222.0 L425.7,224.2 L426.7,226.4 L427.7,228.5 L428.7,230.7 L429.6,232.9 L430.6,235.1 L430.7,235.2 M440.8,257.3 L441.9,259.5 L442.9,261.7 L443.9,263.9 L444.9,266.0 L445.9,268.2 L446.9,270.4 L447.0,270.5 M457.3,292.2 L458.3,294.3 L459.3,296.5 L460.4,298.7 L461.4,300.8 L462.5,303.0 L463.5,305.1 L463.6,305.2 M473.6,325.5 L474.7,327.7 L475.8,329.8 L476.9,331.9 L478.0,334.1 L479.1,336.2 L480.3,338.3 L480.3,338.4 M491.6,358.4 L492.8,360.5 L494.0,362.6 L495.2,364.7 L496.4,366.7 L497.6,368.8 L498.8,370.9 L498.8,371.0 M512.0,393.0 L513.2,395.1 L514.5,397.1 L515.8,399.1 L517.1,401.2 L518.4,403.2 L519.6,405.2 L519.7,405.3 M534.1,426.8 L535.5,428.7 L536.9,430.7 L538.3,432.6 L539.7,434.6 L541.1,436.5 L542.5,438.4 L542.6,438.5 M557.3,457.2 L558.8,459.1 L560.3,460.9 L561.9,462.8 L563.4,464.6 L565.0,466.4 L566.5,468.3 L566.6,468.3 M582.7,486.4 L584.4,488.1 L586.1,489.9 L587.8,491.6 L589.5,493.2 L591.2,494.9 L592.9,496.5 L593.0,496.6 M611.8,513.1 L613.6,514.6 L615.5,516.1 L617.4,517.7 L619.2,519.2 L621.1,520.7 L623.0,522.2 L623.0,522.3 M640.6,535.6 L642.5,537.0 L644.5,538.4 L646.5,539.8 L648.4,541.1 L650.4,542.5 L652.4,543.8 L652.5,543.8 M674.5,557.4 L676.5,558.6 L678.6,559.9 L680.7,561.1 L682.7,562.3 L684.8,563.5 L686.9,564.7 L687.0,564.7 M708.6,576.8 L710.7,577.9 L712.8,579.0 L715.0,580.2 L717.1,581.3 L719.2,582.4 L721.3,583.5 L721.4,583.6 M744.4,595.1 L746.5,596.2 L748.6,597.4 L750.8,598.5 L752.9,599.6 L755.0,600.8 L757.1,601.9 L757.2,602.0 M779.3,614.5 L781.4,615.7 L783.5,616.9 L785.6,618.1 L787.6,619.3 L789.7,620.5 L791.8,621.7 L791.9,621.8 M811.7,633.8 L813.7,635.1 L815.8,636.4 L817.8,637.7 L819.8,639.0 L821.7,640.4 L823.7,641.7 L823.8,641.8 M842.3,655.2 L844.2,656.6 L846.1,658.1 L848.1,659.5 L850.0,660.9 L851.9,662.3 L853.9,663.7 L854.0,663.7 M872.3,677.1 L874.2,678.6 L876.1,680.1 L878.0,681.6 L879.8,683.1 L881.6,684.7 L883.5,686.2 L883.5,686.3 M900.6,702.1 L902.3,703.8 L904.0,705.5 L905.8,707.2 L907.5,708.9 L909.2,710.5 L910.9,712.2 L910.9,712.3 M929.4,731.7 L931.1,733.5 L932.7,735.3 L934.3,737.1 L935.9,738.9 L937.5,740.7 L939.0,742.5 L939.1,742.5 M954.3,760.7 L955.8,762.6 L957.2,764.5 L958.7,766.4 L960.1,768.3 L961.5,770.3 L962.9,772.2 L962.9,772.3 M978.2,795.7 L979.5,797.8 L980.7,799.8 L982.0,801.9 L983.2,803.9 L984.4,806.0 L985.7,808.1 L985.7,808.1 M997.3,828.7 L998.5,830.9 L999.6,833.0 L1000.8,835.1 L1001.9,837.2 L1003.1,839.3 L1004.2,841.4 L1004.3,841.5 M1016.3,864.2 L1017.4,866.3 L1018.5,868.4 L1019.6,870.6 L1020.7,872.7 L1021.8,874.8 L1022.9,876.9 L1022.9,877.0 M1034.1,898.9 L1035.2,901.1 L1036.3,903.2 L1037.4,905.4 L1038.4,907.5 L1039.5,909.7 L1040.6,911.8 L1040.6,911.9 M1051.4,934.1 L1052.4,936.2 L1053.5,938.4 L1054.5,940.6 L1055.5,942.7 L1056.5,944.9 L1057.5,947.1 L1057.6,947.2 M1067.8,969.6 L1068.8,971.8 L1069.8,974.0 L1070.8,976.1 L1071.8,978.3 L1072.8,980.5 L1073.9,982.6 L1073.9,982.7 M1084.3,1004.5 L1085.3,1006.6 L1086.4,1008.8 L1087.4,1011.0 L1088.4,1013.1 L1089.4,1015.3 L1090.4,1017.5 L1090.4,1017.6 M1101.2,1041.2 L1102.2,1043.4 L1103.2,1045.6 L1104.2,1047.7 L1105.2,1049.9 L1106.2,1052.1 L1107.2,1054.3 L1107.3,1054.3 M1118.3,1077.2 L1119.4,1079.3 L1120.4,1081.5 L1121.5,1083.6 L1122.5,1085.8 L1123.6,1087.9 L1124.7,1090.1 L1124.7,1090.2 M1136.1,1112.6 L1137.2,1114.7 L1138.3,1116.8 L1139.4,1119.0 L1140.5,1121.1 L1141.6,1123.2 L1142.7,1125.3 L1142.8,1125.4 M1154.1,1146.7 L1155.3,1148.8 L1156.5,1150.9 L1157.7,1152.9 L1158.9,1155.0 L1160.1,1157.1 L1161.3,1159.2 L1161.4,1159.2 M1174.4,1180.3 L1175.7,1182.3 L1177.0,1184.3 L1178.4,1186.4 L1179.7,1188.3 L1181.0,1190.3 L1182.4,1192.3 L1182.4,1192.4 M1195.8,1211.3 L1197.2,1213.3 L1198.7,1215.2 L1200.2,1217.0 L1201.7,1218.9 L1203.2,1220.8 L1204.7,1222.6 L1204.8,1222.7 M1220.2,1240.1 L1221.8,1241.8 L1223.5,1243.5 L1225.3,1245.2 L1227.0,1246.8 L1228.8,1248.4 L1230.5,1250.1 L1230.6,1250.1 M1249.9,1266.0 L1251.8,1267.4 L1253.8,1268.8 L1255.8,1270.2 L1257.8,1271.5 L1259.8,1272.8 L1261.8,1274.1 L1261.9,1274.1 M1283.0,1285.8 L1285.2,1286.8 L1287.4,1287.8 L1289.6,1288.8 L1291.8,1289.7 L1294.0,1290.6 L1296.2,1291.5 L1296.3,1291.6 M1315.5,1298.3 L1317.8,1299.1 L1320.1,1299.8 L1322.4,1300.6 L1324.6,1301.4 L1326.9,1302.1 L1329.2,1302.9 L1329.3,1303.0 M1349.9,1309.7 L1352.2,1310.3 L1354.5,1310.9 L1356.9,1311.4 L1359.2,1311.9 L1361.6,1312.3 L1363.9,1312.7 L1364.0,1312.7 M1384.9,1315.8 L1387.3,1316.1 L1389.7,1316.4 L1392.1,1316.7 L1394.4,1317.0 L1396.8,1317.3 L1399.2,1317.6 L1399.3,1317.6 M1423.2,1320.3 L1425.6,1320.5 L1428.0,1320.6 L1430.4,1320.7 L1432.7,1320.8 L1435.1,1320.8 L1437.5,1320.8 L1437.6,1320.8 M1459.5,1321.1 L1461.9,1321.1 L1464.3,1321.2 L1466.7,1321.2 L1469.0,1321.2 L1471.4,1321.3 L1473.8,1321.4 L1473.9,1321.4 M1495.5,1322.0 L1497.9,1322.1 L1500.3,1322.1 L1502.7,1322.2 L1505.0,1322.3 L1507.4,1322.3 L1509.8,1322.4 L1509.9,1322.4 M1532.8,1323.0 L1535.2,1323.1 L1537.6,1323.2 L1540.0,1323.2 L1542.3,1323.2 L1544.7,1323.3 L1547.1,1323.3 L1547.2,1323.3 M1568.2,1323.6 L1570.6,1323.7 L1573.0,1323.7 L1575.4,1323.7 L1577.7,1323.8 L1580.1,1323.8 L1582.5,1323.8 L1582.6,1323.8 M1605.5,1324.1 L1607.9,1324.1 L1610.3,1324.2 L1612.7,1324.2 L1615.0,1324.2 L1617.4,1324.3 L1619.8,1324.3 L1619.9,1324.3 M1640.8,1324.6 L1643.2,1324.6 L1645.6,1324.6 L1648.0,1324.7 L1650.3,1324.7 L1652.7,1324.7 L1655.1,1324.7 L1655.2,1324.7 M1678.2,1325.1 L1680.6,1325.1 L1683.0,1325.2 L1685.4,1325.2 L1687.7,1325.3 L1690.1,1325.3 L1692.5,1325.4 L1692.6,1325.4 M1713.5,1325.9 L1715.9,1326.0 L1718.3,1326.1 L1720.7,1326.1 L1723.0,1326.2 L1725.4,1326.3 L1727.8,1326.3 L1727.9,1326.3 M1750.8,1327.0 L1753.2,1327.0 L1755.6,1327.1 L1758.0,1327.1 L1760.3,1327.1 L1762.7,1327.2 L1765.1,1327.2 L1765.2,1327.2 M1787.2,1327.5 L1789.6,1327.5 L1792.0,1327.6 L1794.4,1327.6 L1796.7,1327.6 L1799.1,1327.7 L1801.5,1327.7 L1801.6,1327.7 M1823.5,1328.0 L1825.9,1328.0 L1828.3,1328.1 L1830.7,1328.1 L1833.0,1328.1 L1835.4,1328.2 L1837.8,1328.3 L1837.9,1328.3 M1858.9,1329.0 L1861.3,1329.1 L1863.7,1329.1 L1866.1,1329.2 L1868.4,1329.3 L1870.8,1329.4 L1873.2,1329.5 L1873.3,1329.5 M1896.2,1330.1 L1898.6,1330.1 L1901.0,1330.1 L1903.4,1330.1 L1905.7,1330.1 L1908.1,1330.1 L1910.5,1330.1 L1910.6,1330.1 M1933.5,1330.1 L1935.9,1330.1 L1938.3,1330.1 L1940.7,1330.1 L1943.1,1330.1 L1945.5,1330.1 L1947.9,1330.1 L1948.0,1330.1 M1970.8,1330.1 L1973.2,1330.1 L1975.6,1330.1 L1978.0,1330.1 L1980.4,1330.1 L1982.8,1330.1 L1985.2,1330.1 L1985.2,1330.1"/>
<path class="c" stroke="#00ffff" d="M864.5,1322.4 L866.8,1322.3 L869.1,1321.2 L871.3,1320.0 L873.6,1319.8 L875.9,1321.2 L878.2,1324.0 L880.5,1325.3 L882.7,1323.3 L885.0,1321.8 L887.3,1322.3 L889.6,1321.7 L891.9,1319.2 L894.1,1316.9 L896.4,1316.3 L898.7,1314.9 L901.0,1311.2 L903.3,1307.4 L905.5,1304.3 L907.8,1302.6 L910.1,1302.9 L912.4,1304.2 L914.7,1305.5 L916.9,1306.9 L919.2,1306.3 L921.5,1302.4 L923.8,1298.7 L926.1,1299.4 L928.3,1301.2 L930.6,1300.0 L932.9,1296.9 L935.2,1295.2 L937.5,1294.7 L939.7,1295.6 L942.0,1296.3 L944.3,1295.1 L946.6,1294.2 L948.9,1293.3 L951.1,1290.8 L953.4,1288.8 L955.7,1287.2 L958.0,1284.5 L960.3,1282.2 L962.5,1282.4 L964.8,1281.6 L967.1,1278.6 L969.4,1277.0 L971.7,1275.5 L973.9,1274.7 L976.2,1274.6 L978.5,1270.5 L980.8,1264.7 L983.1,1262.5 L985.3,1261.8 L987.6,1260.0 L989.9,1258.1 L992.2,1256.6 L994.5,1255.6 L996.7,1253.0 L999.0,1247.8 L1001.3,1243.1 L1003.6,1239.2 L1005.9,1234.4 L1008.1,1229.1 L1010.4,1225.7 L1012.7,1224.8 L1015.0,1223.5 L1017.3,1217.9 L1019.5,1209.2 L1021.8,1203.0 L1024.1,1197.7 L1026.4,1190.9 L1028.7,1186.8 L1030.9,1185.8 L1033.2,1183.8 L1035.5,1177.7 L1037.8,1169.4 L1040.1,1163.2 L1042.3,1160.3 L1044.6,1157.3 L1046.9,1151.2 L1049.2,1145.1 L1051.5,1140.0 L1053.7,1132.9 L1056.0,1123.5 L1058.3,1114.4 L1060.6,1107.5 L1062.9,1102.1 L1065.1,1096.8 L1067.4,1088.8 L1069.7,1079.5 L1072.0,1071.1 L1074.3,1063.7 L1076.5,1056.6 L1078.8,1047.4 L1081.1,1035.6 L1083.4,1023.1 L1085.7,1010.9 L1087.9,998.3 L1090.2,988.6 L1092.5,982.4 L1094.8,975.8 L1097.1,968.5 L1099.3,957.5 L1101.6,940.7 L1103.9,926.1 L1106.2,916.4 L1108.5,906.2 L1110.7,894.1 L1113.0,883.1 L1115.3,873.4 L1117.6,861.8 L1119.9,849.7 L1122.1,840.4 L1124.4,831.5 L1126.7,821.3 L1129.0,811.5 L1131.3,802.2 L1133.5,793.3 L1135.8,782.4 L1138.1,769.6 L1140.4,756.9 L1142.7,744.0 L1144.9,731.5 L1147.2,722.3 L1149.5,712.8 L1151.8,700.3 L1154.1,688.8 L1156.3,679.2 L1158.6,673.4 L1160.9,670.0 L1163.2,666.3 L1165.5,658.6 L1167.7,649.6 L1170.0,643.5 L1172.3,634.1 L1174.6,619.5 L1176.9,605.6 L1179.1,594.5 L1181.4,585.5 L1183.7,576.7 L1186.0,564.8 L1188.3,552.0 L1190.5,540.6 L1192.8,532.0 L1195.1,528.4 L1197.4,527.8 L1199.7,525.1 L1201.9,519.8 L1204.2,512.0 L1206.5,503.4 L1208.8,495.8 L1211.1,487.5 L1213.3,477.4 L1215.6,465.9 L1217.9,455.2 L1220.2,448.2 L1222.5,447.4 L1224.7,447.6 L1227.0,443.0 L1229.3,439.1 L1231.6,439.1 L1233.9,436.3 L1236.1,428.4 L1238.4,420.5 L1240.7,413.5 L1243.0,410.1 L1245.3,412.1 L1247.5,414.3 L1249.8,414.6 L1252.1,415.0 L1254.4,415.4 L1256.7,413.7 L1258.9,410.0 L1261.2,406.2 L1263.5,405.7 L1265.8,407.0 L1268.1,406.2 L1270.3,406.4 L1272.6,409.5 L1274.9,413.9 L1277.2,418.2 L1279.5,420.9 L1281.7,421.4 L1284.0,422.5 L1286.3,426.6 L1288.6,431.6 L1290.9,434.2 L1293.1,433.7 L1295.4,433.0 L1297.7,437.2 L1300.0,447.5 L1302.3,457.6 L1304.5,465.3 L1306.8,473.1 L1309.1,480.6 L1311.4,485.9 L1313.7,488.8 L1315.9,491.2 L1318.2,494.3 L1320.5,497.8 L1322.8,505.1 L1325.1,515.2 L1327.3,526.2 L1329.6,535.8 L1331.9,538.3 L1334.2,536.2 L1336.5,539.9 L1338.7,549.7 L1341.0,558.7 L1343.3,567.4 L1345.6,573.2 L1347.9,574.8 L1350.1,581.3 L1352.4,595.0 L1354.7,607.6 L1357.0,616.4 L1359.3,623.3 L1361.5,629.0 L1363.8,636.9 L1366.1,647.2 L1368.4,656.4 L1370.7,666.7 L1372.9,679.6 L1375.2,690.0 L1377.5,695.9 L1379.8,699.8 L1382.1,705.1 L1384.3,713.0 L1386.6,723.3 L1388.9,734.3 L1391.2,744.6 L1393.5,755.9 L1395.7,767.4 L1398.0,775.1 L1400.3,779.6 L1402.6,786.8 L1404.9,794.6 L1407.1,800.5 L1409.4,807.9 L1411.7,820.2 L1414.0,833.5 L1416.3,842.9 L1418.5,850.2 L1420.8,858.4 L1423.1,865.4 L1425.4,867.3 L1427.7,867.7 L1429.9,871.3 L1432.2,875.4 L1434.5,883.7 L1436.8,899.7 L1439.1,914.1 L1441.3,919.1 L1443.6,920.9 L1445.9,927.4 L1448.2,936.8 L1450.5,942.9 L1452.7,946.7 L1455.0,951.5 L1457.3,958.0 L1459.6,965.0 L1461.9,969.9 L1464.1,972.6 L1466.4,976.5 L1468.7,983.4 L1471.0,991.3 L1473.3,997.8 L1475.5,1002.6 L1477.8,1008.6 L1480.1,1015.8 L1482.4,1024.9 L1484.7,1036.3 L1486.9,1043.2 L1489.2,1045.5 L1491.5,1047.6 L1493.8,1047.6 L1496.1,1048.0 L1498.3,1054.3 L1500.6,1061.7 L1502.9,1066.1 L1505.2,1069.8 L1507.5,1076.2 L1509.7,1084.6 L1512.0,1092.0 L1514.3,1096.2 L1516.6,1099.5 L1518.9,1101.9 L1521.1,1101.1 L1523.4,1100.4 L1525.7,1104.9 L1528.0,1114.4 L1530.3,1122.2 L1532.5,1126.3 L1534.8,1128.9 L1537.1,1131.2 L1539.4,1133.9 L1541.7,1137.0 L1543.9,1141.5 L1546.2,1148.2 L1548.5,1154.4 L1550.8,1156.7 L1553.1,1156.6 L1555.3,1158.0 L1557.6,1163.4 L1559.9,1170.3 L1562.2,1173.4 L1564.5,1173.2 L1566.7,1172.9 L1569.0,1174.8 L1571.3,1179.9 L1573.6,1184.4 L1575.9,1185.9 L1578.1,1187.0 L1580.4,1188.7 L1582.7,1189.2 L1585.0,1189.3 L1587.3,1191.6 L1589.5,1195.7 L1591.8,1199.5 L1594.1,1202.4 L1596.4,1206.6 L1598.7,1209.3 L1600.9,1208.4 L1603.2,1208.2 L1605.5,1210.2 L1607.8,1212.0 L1610.1,1214.7 L1612.3,1220.5 L1614.6,1224.6 L1616.9,1223.5 L1619.2,1221.3 L1621.5,1221.4 L1623.7,1222.5 L1626.0,1223.2 L1628.3,1226.2 L1630.6,1230.7 L1632.9,1234.0 L1635.1,1237.9 L1637.4,1240.6 L1639.7,1240.8 L1642.0,1241.8 L1644.3,1242.2 L1646.5,1238.7 L1648.8,1234.8 L1651.1,1235.0 L1653.4,1240.1 L1655.7,1245.2 L1657.9,1245.2 L1660.2,1242.1 L1662.5,1241.8 L1664.8,1245.2 L1667.1,1249.2 L1669.3,1252.0 L1671.6,1254.0 L1673.9,1254.9 L1676.2,1255.0 L1678.5,1255.5 L1680.7,1256.7 L1683.0,1258.4 L1685.3,1261.6 L1687.6,1263.9 L1689.9,1261.9 L1692.1,1257.5 L1694.4,1254.8 L1696.7,1254.2 L1699.0,1254.1 L1701.3,1257.6 L1703.5,1263.9 L1705.8,1266.7 L1708.1,1264.6 L1710.4,1262.3 L1712.7,1263.4 L1714.9,1267.3 L1717.2,1272.5 L1719.5,1274.9 L1721.8,1271.4 L1724.1,1266.2 L1726.3,1264.4 L1728.6,1265.5 L1730.9,1265.8 L1733.2,1265.4 L1735.5,1266.2 L1737.7,1269.0 L1740.0,1274.1 L1742.3,1278.0 L1744.6,1278.4 L1746.9,1277.5 L1749.1,1277.5 L1751.4,1277.0 L1753.7,1275.6 L1756.0,1273.6 L1758.3,1271.9 L1760.5,1273.3 L1762.8,1276.8 L1765.1,1278.8 L1767.4,1279.3 L1769.7,1277.6 L1771.9,1274.2 L1774.2,1274.1 L1776.5,1277.0 L1778.8,1279.1 L1781.1,1280.3 L1783.3,1281.2 L1785.6,1279.7 L1787.9,1277.4 L1790.2,1278.7 L1792.5,1282.0 L1794.7,1282.2 L1797.0,1282.2 L1799.3,1285.8 L1801.6,1289.0 L1803.9,1288.7 L1806.1,1285.8 L1808.4,1284.2 L1810.7,1286.7 L1813.0,1291.0 L1815.3,1292.1 L1817.5,1290.7 L1819.8,1287.8 L1822.1,1284.8 L1824.4,1283.4 L1826.7,1285.3 L1828.9,1287.5 L1831.2,1288.2 L1833.5,1289.3 L1835.8,1288.4 L1838.1,1285.8 L1840.3,1285.0 L1842.6,1285.9 L1844.9,1286.5 L1847.2,1286.1 L1849.5,1285.9 L1851.7,1286.0 L1854.0,1285.8 L1856.3,1287.3 L1858.6,1290.7 L1860.9,1292.1 L1863.1,1290.7 L1865.4,1290.0 L1867.7,1289.8 L1870.0,1290.6 L1872.3,1292.4 L1874.5,1293.5 L1876.8,1293.4 L1879.1,1291.5 L1881.4,1290.0 L1883.7,1288.9 L1885.9,1288.8 L1888.2,1290.3 L1890.5,1291.7 L1892.8,1292.0 L1895.1,1290.9 L1897.3,1290.1 L1899.6,1292.0 L1901.9,1294.8 L1904.2,1295.6 L1906.5,1293.8 L1908.7,1291.9 L1911.0,1291.4 L1913.3,1291.6 L1915.6,1290.0 L1917.9,1289.5 L1920.1,1292.3 L1922.4,1293.2 L1924.7,1290.0 L1927.0,1287.7 L1929.3,1288.0 L1931.5,1289.4 L1933.8,1290.9 L1936.1,1291.1 L1938.4,1292.0 L1940.7,1293.6 L1942.9,1294.1 L1945.2,1293.5 L1947.5,1291.4 L1949.8,1289.9 L1952.1,1292.2 L1954.3,1296.1 L1956.6,1295.8 L1958.9,1293.1 L1961.2,1291.1 L1963.5,1290.6 L1965.7,1292.3 L1968.0,1293.5 L1970.3,1291.6 L1972.6,1290.5 L1974.9,1292.4 L1977.1,1295.9 L1979.4,1298.7 L1981.7,1297.2 L1984.0,1291.8 L1986.3,1288.6 L1988.5,1289.3 L1990.8,1287.5 L1993.1,1281.7"/>
<path class="c" stroke="#0000ff" d="M650.0,1325.6 L652.3,1325.1 L654.6,1324.6 L656.8,1323.4 L659.1,1322.0 L661.4,1321.3 L663.7,1322.4 L666.0,1324.2 L668.2,1323.9 L670.5,1321.5 L672.8,1318.8 L675.1,1317.6 L677.4,1318.2 L679.6,1318.9 L681.9,1318.6 L684.2,1317.4 L686.5,1316.3 L688.8,1316.4 L691.0,1317.6 L693.3,1318.7 L695.6,1318.0 L697.9,1315.2 L700.2,1312.6 L702.4,1311.2 L704.7,1310.1 L707.0,1309.2 L709.3,1308.6 L711.6,1308.2 L713.8,1308.2 L716.1,1307.7 L718.4,1306.4 L720.7,1304.4 L723.0,1302.2 L725.2,1300.7 L727.5,1300.0 L729.8,1299.5 L732.1,1298.6 L734.4,1296.7 L736.6,1294.4 L738.9,1292.7 L741.2,1291.0 L743.5,1289.5 L745.8,1287.8 L748.0,1286.4 L750.3,1286.4 L752.6,1286.3 L754.9,1284.7 L757.2,1282.5 L759.4,1280.3 L761.7,1278.4 L764.0,1277.1 L766.3,1275.8 L768.6,1274.0 L770.8,1272.1 L773.1,1271.0 L775.4,1269.7 L777.7,1267.4 L780.0,1265.0 L782.2,1262.4 L784.5,1259.9 L786.8,1258.9 L789.1,1257.9 L791.4,1256.0 L793.6,1253.0 L795.9,1249.9 L798.2,1247.9 L800.5,1246.6 L802.8,1243.9 L805.0,1239.7 L807.3,1236.1 L809.6,1235.0 L811.9,1234.0 L814.2,1230.5 L816.4,1224.9 L818.7,1220.2 L821.0,1217.0 L823.3,1212.4 L825.6,1207.3 L827.8,1204.1 L830.1,1200.6 L832.4,1197.6 L834.7,1196.6 L837.0,1195.4 L839.2,1192.6 L841.5,1190.3 L843.8,1188.5 L846.1,1184.1 L848.4,1176.8 L850.6,1169.3 L852.9,1163.2 L855.2,1159.4 L857.5,1156.8 L859.8,1153.1 L862.0,1148.5 L864.3,1143.0 L866.6,1136.9 L868.9,1132.4 L871.2,1129.3 L873.4,1125.5 L875.7,1120.3 L878.0,1113.4 L880.3,1105.9 L882.6,1098.1 L884.8,1089.8 L887.1,1083.3 L889.4,1079.3 L891.7,1074.2 L894.0,1066.6 L896.2,1058.3 L898.5,1051.6 L900.8,1045.0 L903.1,1037.0 L905.4,1030.2 L907.6,1026.8 L909.9,1023.4 L912.2,1016.5 L914.5,1007.8 L916.8,999.6 L919.0,989.7 L921.3,979.0 L923.6,972.4 L925.9,967.9 L928.2,962.3 L930.4,955.3 L932.7,945.9 L935.0,935.4 L937.3,925.9 L939.6,916.5 L941.8,906.9 L944.1,899.3 L946.4,893.4 L948.7,885.2 L951.0,873.5 L953.2,862.6 L955.5,854.6 L957.8,846.9 L960.1,837.8 L962.4,827.3 L964.6,815.8 L966.9,806.2 L969.2,799.6 L971.5,793.2 L973.8,783.4 L976.0,771.3 L978.3,762.1 L980.6,755.0 L982.9,746.2 L985.2,738.5 L987.4,733.4 L989.7,726.2 L992.0,715.8 L994.3,705.3 L996.6,695.8 L998.8,686.0 L1001.1,675.0 L1003.4,662.7 L1005.7,652.3 L1008.0,644.5 L1010.2,637.2 L1012.5,629.9 L1014.8,620.4 L1017.1,609.5 L1019.4,600.4 L1021.6,593.0 L1023.9,585.3 L1026.2,576.6 L1028.5,569.9 L1030.8,566.3 L1033.0,560.9 L1035.3,550.3 L1037.6,537.7 L1039.9,528.5 L1042.2,520.7 L1044.4,510.4 L1046.7,500.7 L1049.0,493.8 L1051.3,486.2 L1053.6,476.0 L1055.8,466.6 L1058.1,461.3 L1060.4,457.7 L1062.7,452.5 L1065.0,447.1 L1067.2,442.2 L1069.5,436.5 L1071.8,429.8 L1074.1,423.2 L1076.4,416.9 L1078.6,412.2 L1080.9,409.9 L1083.2,408.7 L1085.5,405.8 L1087.8,402.4 L1090.0,400.9 L1092.3,400.8 L1094.6,399.7 L1096.9,397.6 L1099.2,397.9 L1101.4,402.0 L1103.7,406.2 L1106.0,406.5 L1108.3,405.8 L1110.6,408.0 L1112.8,411.0 L1115.1,412.6 L1117.4,415.8 L1119.7,421.1 L1122.0,425.3 L1124.2,428.2 L1126.5,432.2 L1128.8,438.1 L1131.1,442.0 L1133.4,442.7 L1135.6,441.9 L1137.9,442.7 L1140.2,447.5 L1142.5,454.1 L1144.8,460.6 L1147.0,466.2 L1149.3,469.7 L1151.6,474.3 L1153.9,481.2 L1156.2,487.6 L1158.4,493.2 L1160.7,498.7 L1163.0,503.8 L1165.3,511.3 L1167.6,522.9 L1169.8,534.5 L1172.1,544.7 L1174.4,551.8 L1176.7,553.6 L1179.0,555.5 L1181.2,562.1 L1183.5,571.8 L1185.8,582.2 L1188.1,590.9 L1190.4,598.6 L1192.6,607.8 L1194.9,617.6 L1197.2,628.2 L1199.5,638.3 L1201.8,647.1 L1204.0,655.2 L1206.3,661.8 L1208.6,667.6 L1210.9,675.8 L1213.2,689.4 L1215.4,704.8 L1217.7,716.4 L1220.0,723.6 L1222.3,729.2 L1224.6,736.9 L1226.8,747.1 L1229.1,756.1 L1231.4,764.3 L1233.7,773.2 L1236.0,782.3 L1238.2,790.7 L1240.5,798.5 L1242.8,807.2 L1245.1,818.9 L1247.4,830.2 L1249.6,837.0 L1251.9,842.9 L1254.2,850.6 L1256.5,857.1 L1258.8,862.8 L1261.0,871.5 L1263.3,881.7 L1265.6,890.6 L1267.9,899.4 L1270.2,907.4 L1272.4,913.4 L1274.7,920.0 L1277.0,928.0 L1279.3,934.5 L1281.6,938.6 L1283.8,944.8 L1286.1,954.1 L1288.4,964.0 L1290.7,972.1 L1293.0,977.2 L1295.2,981.0 L1297.5,986.6 L1299.8,992.5 L1302.1,998.0 L1304.4,1003.4 L1306.6,1006.8 L1308.9,1010.9 L1311.2,1017.4 L1313.5,1024.6 L1315.8,1032.9 L1318.0,1042.1 L1320.3,1050.2 L1322.6,1055.6 L1324.9,1057.3 L1327.2,1058.5 L1329.4,1062.2 L1331.7,1067.1 L1334.0,1072.7 L1336.3,1078.4 L1338.6,1082.1 L1340.8,1086.5 L1343.1,1093.4 L1345.4,1099.9 L1347.7,1105.1 L1350.0,1110.0 L1352.2,1114.9 L1354.5,1119.8 L1356.8,1124.6 L1359.1,1128.2 L1361.4,1130.9 L1363.6,1132.7 L1365.9,1134.6 L1368.2,1138.6 L1370.5,1143.3 L1372.8,1147.3 L1375.0,1152.0 L1377.3,1157.3 L1379.6,1159.8 L1381.9,1160.3 L1384.2,1162.9 L1386.4,1168.1 L1388.7,1172.8 L1391.0,1176.5 L1393.3,1179.9 L1395.6,1183.3 L1397.8,1186.5 L1400.1,1189.4 L1402.4,1193.7 L1404.7,1199.2 L1407.0,1202.0 L1409.2,1201.2 L1411.5,1201.4 L1413.8,1204.1 L1416.1,1207.1 L1418.4,1209.0 L1420.6,1211.2 L1422.9,1213.5 L1425.2,1215.0 L1427.5,1216.4 L1429.8,1217.6 L1432.0,1218.6 L1434.3,1221.4 L1436.6,1225.8 L1438.9,1229.0 L1441.2,1230.0 L1443.4,1230.8 L1445.7,1234.0 L1448.0,1237.9 L1450.3,1239.9 L1452.6,1240.1 L1454.8,1240.8 L1457.1,1242.2 L1459.4,1242.6 L1461.7,1243.4 L1464.0,1246.6 L1466.2,1250.7 L1468.5,1253.2 L1470.8,1254.3 L1473.1,1255.0 L1475.4,1256.0 L1477.6,1257.4 L1479.9,1260.6 L1482.2,1264.2 L1484.5,1264.9 L1486.8,1264.3 L1489.0,1265.5 L1491.3,1268.0 L1493.6,1269.3 L1495.9,1268.3 L1498.2,1267.8 L1500.4,1269.7 L1502.7,1272.6 L1505.0,1275.2 L1507.3,1277.2 L1509.6,1277.8 L1511.8,1277.5 L1514.1,1277.9 L1516.4,1280.6 L1518.7,1283.1 L1521.0,1283.1 L1523.2,1282.5 L1525.5,1283.1 L1527.8,1283.5 L1530.1,1282.8 L1532.4,1283.0 L1534.6,1284.6 L1536.9,1285.3 L1539.2,1285.3 L1541.5,1285.5 L1543.8,1285.9 L1546.0,1286.3 L1548.3,1286.2 L1550.6,1286.6 L1552.9,1288.3 L1555.2,1289.6 L1557.4,1289.7 L1559.7,1290.6 L1562.0,1291.6 L1564.3,1291.9 L1566.6,1292.6 L1568.8,1294.7 L1571.1,1298.5 L1573.4,1301.7 L1575.7,1301.8 L1578.0,1300.2 L1580.2,1299.5 L1582.5,1299.7 L1584.8,1300.4 L1587.1,1300.7 L1589.4,1300.4 L1591.6,1301.2 L1593.9,1302.5 L1596.2,1303.1 L1598.5,1302.4 L1600.8,1301.9 L1603.0,1302.7 L1605.3,1303.7 L1607.6,1303.8 L1609.9,1303.1 L1612.2,1301.7 L1614.4,1301.7 L1616.7,1304.1 L1619.0,1305.9 L1621.3,1306.1 L1623.6,1306.4 L1625.8,1306.4 L1628.1,1305.5 L1630.4,1305.2 L1632.7,1306.2 L1635.0,1307.0 L1637.2,1307.0 L1639.5,1307.2 L1641.8,1306.8 L1644.1,1307.2 L1646.4,1308.3 L1648.6,1307.9 L1650.9,1307.2 L1653.2,1308.5 L1655.5,1310.7 L1657.8,1311.4 L1660.0,1310.9 L1662.3,1310.9 L1664.6,1311.0 L1666.9,1310.6 L1669.2,1310.7 L1671.4,1310.6 L1673.7,1310.2 L1676.0,1310.5 L1678.3,1311.2 L1680.6,1311.4 L1682.8,1311.5 L1685.1,1312.5 L1687.4,1314.0 L1689.7,1315.1 L1692.0,1315.9 L1694.2,1316.7 L1696.5,1317.3 L1698.8,1317.0 L1701.1,1315.7 L1703.4,1315.4 L1705.6,1316.5 L1707.9,1317.8 L1710.2,1316.6 L1712.5,1313.8 L1714.8,1313.6 L1717.0,1315.9 L1719.3,1317.4 L1721.6,1317.5 L1723.9,1317.2 L1726.2,1317.4 L1728.4,1317.6 L1730.7,1317.3 L1733.0,1316.2 L1735.3,1315.1 L1737.6,1315.4 L1739.8,1316.5 L1742.1,1317.2 L1744.4,1316.9 L1746.7,1316.4 L1749.0,1316.3 L1751.2,1315.6 L1753.5,1314.8 L1755.8,1315.3 L1758.1,1317.3 L1760.4,1319.3 L1762.6,1320.2 L1764.9,1320.2 L1767.2,1320.2 L1769.5,1319.9 L1771.8,1319.9 L1774.0,1320.6 L1776.3,1320.7 L1778.6,1319.8 L1780.9,1319.2 L1783.2,1319.3 L1785.4,1319.4 L1787.7,1319.8 L1790.0,1320.6 L1792.3,1320.8 L1794.6,1320.5 L1796.8,1320.5 L1799.1,1321.1 L1801.4,1321.9 L1803.7,1322.9 L1806.0,1324.4 L1808.2,1325.2 L1810.5,1325.3 L1812.8,1324.1 L1815.1,1322.3 L1817.4,1321.9 L1819.6,1322.5 L1821.9,1322.8 L1824.2,1322.2 L1826.5,1321.0 L1828.8,1319.8 L1831.0,1319.6 L1833.3,1320.0 L1835.6,1321.1 L1837.9,1321.6 L1840.2,1321.9 L1842.4,1322.4 L1844.7,1322.1 L1847.0,1320.5 L1849.3,1319.4 L1851.6,1319.2 L1853.8,1319.9 L1856.1,1322.1 L1858.4,1324.1 L1860.7,1324.2 L1863.0,1323.6 L1865.2,1323.3 L1867.5,1323.7 L1869.8,1324.3 L1872.1,1325.2 L1874.4,1326.7 L1876.6,1327.5 L1878.9,1326.5 L1881.2,1325.0 L1883.5,1324.5 L1885.8,1325.0 L1888.0,1325.7 L1890.3,1326.3 L1892.6,1326.6 L1894.9,1325.8 L1897.2,1324.2 L1899.4,1324.4 L1901.7,1325.3 L1904.0,1324.8 L1906.3,1323.9 L1908.6,1323.5 L1910.8,1324.1 L1913.1,1326.6 L1915.4,1328.8 L1917.7,1327.7 L1920.0,1325.0 L1922.2,1323.9 L1924.5,1324.8 L1926.8,1325.5 L1929.1,1325.1 L1931.4,1325.3 L1933.6,1326.6 L1935.9,1326.7 L1938.2,1324.9 L1940.5,1323.0 L1942.8,1322.1 L1945.0,1322.0 L1947.3,1322.8 L1949.6,1324.5 L1951.9,1326.0 L1954.2,1327.8 L1956.4,1329.1 L1958.7,1328.2 L1961.0,1326.9 L1963.3,1327.1 L1965.6,1327.0 L1967.8,1325.4 L1970.1,1324.2 L1972.4,1324.1 L1974.7,1324.4 L1977.0,1324.4 L1979.2,1323.1 L1981.5,1322.9 L1983.8,1324.3 L1986.1,1325.5 L1988.4,1326.2 L1990.6,1326.3 L1992.9,1326.0"/>
<path class="c" stroke="#000000" d="M626.3,1324.2 L628.6,1322.0 L630.9,1321.3 L633.1,1321.8 L635.4,1322.2 L637.7,1321.7 L640.0,1320.6 L642.3,1320.7 L644.5,1321.7 L646.8,1321.7 L649.1,1322.3 L651.4,1323.9 L653.7,1323.1 L655.9,1320.4 L658.2,1320.6 L660.5,1322.1 L662.8,1320.8 L665.1,1318.0 L667.3,1315.6 L669.6,1314.2 L671.9,1313.6 L674.2,1313.6 L676.5,1313.5 L678.7,1312.1 L681.0,1310.2 L683.3,1309.0 L685.6,1308.6 L687.9,1308.6 L690.1,1309.4 L692.4,1310.4 L694.7,1310.1 L697.0,1309.0 L699.3,1307.5 L701.5,1305.9 L703.8,1304.4 L706.1,1303.6 L708.4,1302.8 L710.7,1302.1 L712.9,1301.7 L715.2,1299.9 L717.5,1297.1 L719.8,1295.3 L722.1,1294.5 L724.3,1294.0 L726.6,1293.5 L728.9,1292.1 L731.2,1288.2 L733.5,1284.1 L735.7,1282.2 L738.0,1282.0 L740.3,1283.5 L742.6,1284.3 L744.9,1281.5 L747.1,1277.5 L749.4,1276.0 L751.7,1275.8 L754.0,1273.2 L756.3,1270.2 L758.5,1269.3 L760.8,1268.1 L763.1,1264.2 L765.4,1259.3 L767.7,1255.6 L769.9,1252.1 L772.2,1247.8 L774.5,1244.3 L776.8,1242.0 L779.1,1240.1 L781.3,1239.2 L783.6,1239.3 L785.9,1237.8 L788.2,1233.1 L790.5,1229.0 L792.7,1227.1 L795.0,1225.7 L797.3,1222.6 L799.6,1217.0 L801.9,1210.6 L804.1,1206.0 L806.4,1204.0 L808.7,1202.6 L811.0,1198.7 L813.3,1193.7 L815.5,1190.0 L817.8,1187.3 L820.1,1183.4 L822.4,1177.5 L824.7,1170.7 L826.9,1164.5 L829.2,1160.8 L831.5,1156.7 L833.8,1149.7 L836.1,1143.8 L838.3,1138.8 L840.6,1131.8 L842.9,1124.0 L845.2,1116.8 L847.5,1109.0 L849.7,1099.8 L852.0,1091.1 L854.3,1084.8 L856.6,1079.4 L858.9,1074.7 L861.1,1071.0 L863.4,1066.6 L865.7,1060.1 L868.0,1053.2 L870.3,1048.1 L872.5,1043.4 L874.8,1037.3 L877.1,1029.1 L879.4,1019.7 L881.7,1011.6 L883.9,1004.1 L886.2,996.2 L888.5,989.2 L890.8,981.7 L893.1,972.1 L895.3,962.2 L897.6,955.0 L899.9,950.1 L902.2,944.6 L904.5,935.8 L906.7,924.3 L909.0,912.8 L911.3,903.3 L913.6,895.6 L915.9,888.5 L918.1,881.9 L920.4,872.7 L922.7,858.0 L925.0,841.8 L927.3,828.3 L929.5,817.7 L931.8,810.8 L934.1,805.0 L936.4,795.3 L938.7,784.9 L940.9,778.4 L943.2,770.9 L945.5,759.2 L947.8,747.7 L950.1,739.4 L952.3,733.2 L954.6,727.3 L956.9,720.6 L959.2,712.8 L961.5,704.2 L963.7,694.3 L966.0,681.9 L968.3,670.3 L970.6,663.1 L972.9,657.1 L975.1,649.3 L977.4,639.5 L979.7,627.6 L982.0,617.7 L984.3,611.0 L986.5,602.8 L988.8,593.3 L991.1,584.8 L993.4,574.5 L995.7,559.9 L997.9,545.5 L1000.2,537.2 L1002.5,532.1 L1004.8,527.5 L1007.1,524.3 L1009.3,519.2 L1011.6,510.5 L1013.9,503.6 L1016.2,498.2 L1018.5,488.7 L1020.7,479.2 L1023.0,473.6 L1025.3,468.2 L1027.6,461.9 L1029.9,455.8 L1032.1,448.8 L1034.4,442.9 L1036.7,439.6 L1039.0,435.9 L1041.3,431.2 L1043.5,428.2 L1045.8,427.6 L1048.1,426.4 L1050.4,422.7 L1052.7,419.0 L1054.9,416.0 L1057.2,414.0 L1059.5,414.1 L1061.8,414.2 L1064.1,412.5 L1066.3,408.7 L1068.6,405.0 L1070.9,404.0 L1073.2,405.4 L1075.5,407.1 L1077.7,407.9 L1080.0,407.9 L1082.3,408.5 L1084.6,408.3 L1086.9,406.0 L1089.1,404.0 L1091.4,406.1 L1093.7,412.5 L1096.0,419.6 L1098.3,424.1 L1100.5,427.8 L1102.8,431.4 L1105.1,433.9 L1107.4,434.3 L1109.7,434.1 L1111.9,436.1 L1114.2,440.1 L1116.5,444.4 L1118.8,449.2 L1121.1,455.6 L1123.3,461.0 L1125.6,464.1 L1127.9,468.7 L1130.2,475.6 L1132.5,483.8 L1134.7,491.6 L1137.0,497.2 L1139.3,501.5 L1141.6,506.6 L1143.9,514.3 L1146.1,522.0 L1148.4,528.3 L1150.7,531.6 L1153.0,534.9 L1155.3,545.5 L1157.5,560.7 L1159.8,573.1 L1162.1,579.8 L1164.4,584.1 L1166.7,591.9 L1168.9,605.1 L1171.2,616.2 L1173.5,621.6 L1175.8,625.8 L1178.1,634.7 L1180.3,649.7 L1182.6,663.7 L1184.9,672.0 L1187.2,678.2 L1189.5,684.2 L1191.7,691.4 L1194.0,700.0 L1196.3,707.6 L1198.6,716.8 L1200.9,728.4 L1203.1,739.2 L1205.4,747.6 L1207.7,754.1 L1210.0,759.9 L1212.3,768.0 L1214.5,778.1 L1216.8,786.8 L1219.1,794.5 L1221.4,803.4 L1223.7,812.3 L1225.9,819.8 L1228.2,828.2 L1230.5,839.4 L1232.8,853.1 L1235.1,865.9 L1237.3,874.0 L1239.6,878.3 L1241.9,885.8 L1244.2,896.1 L1246.5,905.1 L1248.7,914.3 L1251.0,923.1 L1253.3,927.8 L1255.6,931.8 L1257.9,939.5 L1260.1,949.5 L1262.4,956.9 L1264.7,962.1 L1267.0,969.8 L1269.3,979.6 L1271.5,987.4 L1273.8,993.5 L1276.1,1000.0 L1278.4,1004.7 L1280.7,1008.5 L1282.9,1015.5 L1285.2,1022.8 L1287.5,1027.2 L1289.8,1032.1 L1292.1,1041.4 L1294.3,1051.3 L1296.6,1057.1 L1298.9,1061.2 L1301.2,1067.1 L1303.5,1072.3 L1305.7,1078.4 L1308.0,1084.8 L1310.3,1088.6 L1312.6,1090.4 L1314.9,1093.2 L1317.1,1097.4 L1319.4,1100.9 L1321.7,1107.4 L1324.0,1118.0 L1326.3,1125.5 L1328.5,1128.7 L1330.8,1131.8 L1333.1,1137.9 L1335.4,1144.1 L1337.7,1146.6 L1339.9,1146.3 L1342.2,1146.4 L1344.5,1147.7 L1346.8,1149.6 L1349.1,1153.9 L1351.3,1159.9 L1353.6,1164.9 L1355.9,1169.9 L1358.2,1176.3 L1360.5,1182.4 L1362.7,1185.5 L1365.0,1186.6 L1367.3,1187.8 L1369.6,1188.9 L1371.9,1191.5 L1374.1,1194.3 L1376.4,1195.6 L1378.7,1197.3 L1381.0,1200.7 L1383.3,1206.0 L1385.5,1210.1 L1387.8,1211.0 L1390.1,1211.3 L1392.4,1211.6 L1394.7,1213.0 L1396.9,1217.7 L1399.2,1224.9 L1401.5,1229.1 L1403.8,1228.7 L1406.1,1228.0 L1408.3,1229.8 L1410.6,1232.6 L1412.9,1235.7 L1415.2,1238.5 L1417.5,1240.8 L1419.7,1242.5 L1422.0,1242.9 L1424.3,1243.0 L1426.6,1243.7 L1428.9,1245.4 L1431.1,1247.6 L1433.4,1250.0 L1435.7,1252.5 L1438.0,1255.0 L1440.3,1256.1 L1442.5,1255.8 L1444.8,1256.7 L1447.1,1260.3 L1449.4,1265.4 L1451.7,1269.0 L1453.9,1269.7 L1456.2,1269.6 L1458.5,1269.8 L1460.8,1270.1 L1463.1,1270.6 L1465.3,1269.7 L1467.6,1271.1 L1469.9,1276.1 L1472.2,1277.8 L1474.5,1275.9 L1476.7,1275.3 L1479.0,1275.8 L1481.3,1275.5 L1483.6,1275.3 L1485.9,1277.1 L1488.1,1280.4 L1490.4,1283.2 L1492.7,1285.3 L1495.0,1287.0 L1497.3,1287.7 L1499.5,1286.1 L1501.8,1284.0 L1504.1,1282.9 L1506.4,1284.8 L1508.7,1287.8 L1510.9,1289.0 L1513.2,1289.5 L1515.5,1289.3 L1517.8,1288.7 L1520.1,1289.1 L1522.3,1290.3 L1524.6,1292.1 L1526.9,1294.2 L1529.2,1294.7 L1531.5,1293.7 L1533.7,1293.9 L1536.0,1295.9 L1538.3,1298.9 L1540.6,1302.7 L1542.9,1305.3 L1545.1,1304.5 L1547.4,1302.5 L1549.7,1301.1 L1552.0,1300.5 L1554.3,1300.5 L1556.5,1301.4 L1558.8,1303.1 L1561.1,1304.9 L1563.4,1306.1 L1565.7,1305.9 L1567.9,1305.4 L1570.2,1306.7 L1572.5,1309.4 L1574.8,1311.5 L1577.1,1312.5 L1579.3,1312.5 L1581.6,1311.7 L1583.9,1311.1 L1586.2,1312.1 L1588.5,1312.5 L1590.7,1311.5 L1593.0,1312.2 L1595.3,1313.3 L1597.6,1313.1 L1599.9,1312.8 L1602.1,1312.1 L1604.4,1310.7 L1606.7,1309.6 L1609.0,1308.6 L1611.3,1308.3 L1613.5,1309.1 L1615.8,1310.4 L1618.1,1311.5 L1620.4,1311.7 L1622.7,1312.7 L1624.9,1315.3 L1627.2,1316.4 L1629.5,1315.1 L1631.8,1313.5 L1634.1,1313.4 L1636.3,1313.9 L1638.6,1313.2 L1640.9,1313.2 L1643.2,1315.8 L1645.5,1317.1 L1647.7,1315.5 L1650.0,1315.2 L1652.3,1315.9 L1654.6,1316.1 L1656.9,1315.9 L1659.1,1315.2 L1661.4,1316.0 L1663.7,1317.1 L1666.0,1316.3 L1668.3,1315.3 L1670.5,1315.5 L1672.8,1316.6 L1675.1,1317.3 L1677.4,1316.8 L1679.7,1316.2 L1681.9,1315.8 L1684.2,1315.8 L1686.5,1314.3 L1688.8,1312.7 L1691.1,1313.3 L1693.3,1314.7 L1695.6,1316.6 L1697.9,1317.5 L1700.2,1316.5 L1702.5,1316.8 L1704.7,1319.0 L1707.0,1320.5 L1709.3,1320.6 L1711.6,1319.1 L1713.9,1317.7 L1716.1,1318.7 L1718.4,1320.6 L1720.7,1320.8 L1723.0,1319.5 L1725.3,1318.5 L1727.5,1318.3 L1729.8,1319.4 L1732.1,1320.5 L1734.4,1319.1 L1736.7,1317.3 L1738.9,1317.9 L1741.2,1319.7 L1743.5,1320.1 L1745.8,1318.9 L1748.1,1317.6 L1750.3,1316.5 L1752.6,1315.5 L1754.9,1316.3 L1757.2,1318.5 L1759.5,1319.8 L1761.7,1321.1 L1764.0,1322.3 L1766.3,1322.5 L1768.6,1323.0 L1770.9,1323.8 L1773.1,1322.8 L1775.4,1321.5 L1777.7,1321.2 L1780.0,1320.5 L1782.3,1319.5 L1784.5,1318.9 L1786.8,1318.0 L1789.1,1317.1 L1791.4,1317.8 L1793.7,1318.5 L1795.9,1317.9 L1798.2,1317.4 L1800.5,1318.5 L1802.8,1319.8 L1805.1,1319.9 L1807.3,1319.6 L1809.6,1319.7 L1811.9,1319.7 L1814.2,1320.9 L1816.5,1321.8 L1818.7,1321.3 L1821.0,1321.2 L1823.3,1321.9 L1825.6,1321.6 L1827.9,1321.5 L1830.1,1322.0 L1832.4,1321.0 L1834.7,1318.6 L1837.0,1317.6 L1839.3,1317.8 L1841.5,1318.2 L1843.8,1318.8 L1846.1,1319.9 L1848.4,1320.8 L1850.7,1321.3 L1852.9,1322.0 L1855.2,1322.4 L1857.5,1322.5 L1859.8,1323.9 L1862.1,1325.1 L1864.3,1324.2 L1866.6,1322.4 L1868.9,1321.5 L1871.2,1321.8 L1873.5,1323.0 L1875.7,1323.5 L1878.0,1322.8 L1880.3,1323.2 L1882.6,1323.9 L1884.9,1323.3 L1887.1,1322.0 L1889.4,1320.9 L1891.7,1321.2 L1894.0,1323.3 L1896.3,1325.0 L1898.5,1323.8 L1900.8,1322.1 L1903.1,1321.9 L1905.4,1323.0 L1907.7,1324.5 L1909.9,1326.0 L1912.2,1327.1 L1914.5,1326.9 L1916.8,1326.4 L1919.1,1325.2 L1921.3,1323.3 L1923.6,1321.7 L1925.9,1321.6 L1928.2,1321.8 L1930.5,1320.9 L1932.7,1320.6 L1935.0,1321.9 L1937.3,1322.4 L1939.6,1322.1 L1941.9,1322.2 L1944.1,1322.5 L1946.4,1322.0 L1948.7,1320.9 L1951.0,1321.1 L1953.3,1322.4 L1955.5,1322.8 L1957.8,1322.1 L1960.1,1321.3 L1962.4,1321.6 L1964.7,1323.0 L1966.9,1324.0 L1969.2,1324.4 L1971.5,1325.4 L1973.8,1325.3 L1976.1,1324.0 L1978.3,1322.3 L1980.6,1319.8 L1982.9,1318.3 L1985.2,1318.9 L1987.5,1320.5 L1989.7,1321.5 L1992.0,1322.1 L1994.3,1322.7"/>
<path class="c" stroke="#ff0000" d="M596.3,1316.5 L598.6,1317.7 L600.9,1317.5 L603.1,1316.8 L605.4,1315.9 L607.7,1314.3 L610.0,1313.2 L612.3,1313.8 L614.5,1315.5 L616.8,1316.4 L619.1,1314.9 L621.4,1312.1 L623.7,1310.3 L625.9,1309.9 L628.2,1309.5 L630.5,1309.2 L632.8,1309.7 L635.1,1309.1 L637.3,1308.4 L639.6,1309.5 L641.9,1310.5 L644.2,1310.3 L646.5,1309.7 L648.7,1309.3 L651.0,1309.4 L653.3,1308.7 L655.6,1307.4 L657.9,1306.4 L660.1,1304.5 L662.4,1301.8 L664.7,1299.9 L667.0,1299.6 L669.3,1299.3 L671.5,1298.5 L673.8,1298.6 L676.1,1298.1 L678.4,1295.3 L680.7,1292.7 L682.9,1293.0 L685.2,1293.6 L687.5,1292.1 L689.8,1289.5 L692.1,1288.0 L694.3,1288.6 L696.6,1289.1 L698.9,1287.8 L701.2,1286.2 L703.5,1286.1 L705.7,1286.2 L708.0,1284.8 L710.3,1282.8 L712.6,1282.8 L714.9,1283.0 L717.1,1280.0 L719.4,1276.6 L721.7,1275.2 L724.0,1275.7 L726.3,1277.4 L728.5,1276.2 L730.8,1271.5 L733.1,1268.9 L735.4,1270.3 L737.7,1271.3 L739.9,1269.7 L742.2,1266.0 L744.5,1261.0 L746.8,1256.5 L749.1,1252.8 L751.3,1251.4 L753.6,1251.7 L755.9,1251.5 L758.2,1250.1 L760.5,1246.1 L762.7,1242.5 L765.0,1242.1 L767.3,1241.0 L769.6,1236.4 L771.9,1231.8 L774.1,1230.5 L776.4,1229.0 L778.7,1224.9 L781.0,1221.7 L783.3,1220.0 L785.5,1216.4 L787.8,1211.4 L790.1,1207.9 L792.4,1205.9 L794.7,1204.7 L796.9,1203.5 L799.2,1201.1 L801.5,1195.9 L803.8,1190.5 L806.1,1188.5 L808.3,1187.5 L810.6,1184.7 L812.9,1179.9 L815.2,1173.8 L817.5,1169.2 L819.7,1165.3 L822.0,1159.4 L824.3,1154.9 L826.6,1153.4 L828.9,1150.0 L831.1,1144.3 L833.4,1138.5 L835.7,1134.1 L838.0,1131.7 L840.3,1130.0 L842.5,1126.1 L844.8,1121.0 L847.1,1117.0 L849.4,1112.4 L851.7,1108.4 L853.9,1105.6 L856.2,1100.7 L858.5,1096.1 L860.8,1092.9 L863.1,1087.9 L865.3,1083.0 L867.6,1079.7 L869.9,1075.3 L872.2,1069.3 L874.5,1063.2 L876.7,1057.3 L879.0,1051.3 L881.3,1044.9 L883.6,1040.6 L885.9,1037.4 L888.1,1031.6 L890.4,1025.9 L892.7,1020.4 L895.0,1011.4 L897.3,1001.8 L899.5,994.5 L901.8,988.9 L904.1,985.1 L906.4,979.0 L908.7,969.5 L910.9,961.4 L913.2,955.3 L915.5,948.4 L917.8,940.7 L920.1,932.4 L922.3,923.6 L924.6,917.1 L926.9,912.0 L929.2,906.2 L931.5,898.9 L933.7,891.3 L936.0,884.6 L938.3,876.2 L940.6,865.4 L942.9,855.1 L945.1,847.5 L947.4,841.0 L949.7,833.5 L952.0,827.6 L954.3,822.9 L956.5,816.4 L958.8,806.3 L961.1,793.4 L963.4,783.3 L965.7,777.6 L967.9,771.8 L970.2,764.2 L972.5,756.1 L974.8,748.8 L977.1,741.0 L979.3,732.0 L981.6,722.7 L983.9,713.6 L986.2,704.6 L988.5,695.8 L990.7,686.0 L993.0,675.8 L995.3,666.4 L997.6,656.4 L999.9,646.3 L1002.1,636.7 L1004.4,629.6 L1006.7,622.6 L1009.0,610.9 L1011.3,599.0 L1013.5,592.8 L1015.8,591.4 L1018.1,589.2 L1020.4,581.4 L1022.7,570.2 L1024.9,560.0 L1027.2,554.3 L1029.5,550.8 L1031.8,544.3 L1034.1,534.7 L1036.3,526.2 L1038.6,517.6 L1040.9,508.4 L1043.2,500.1 L1045.5,490.7 L1047.7,482.3 L1050.0,477.9 L1052.3,472.2 L1054.6,463.9 L1056.9,458.7 L1059.1,457.5 L1061.4,455.8 L1063.7,453.0 L1066.0,448.7 L1068.3,443.2 L1070.5,438.7 L1072.8,434.5 L1075.1,430.6 L1077.4,427.7 L1079.7,425.8 L1081.9,423.4 L1084.2,419.0 L1086.5,414.1 L1088.8,410.7 L1091.1,408.0 L1093.3,405.2 L1095.6,403.8 L1097.9,403.3 L1100.2,402.8 L1102.5,403.0 L1104.7,405.3 L1107.0,408.7 L1109.3,409.2 L1111.6,407.2 L1113.9,407.1 L1116.1,408.3 L1118.4,407.2 L1120.7,405.9 L1123.0,407.0 L1125.3,410.0 L1127.5,413.2 L1129.8,415.9 L1132.1,417.4 L1134.4,416.7 L1136.7,416.1 L1138.9,416.9 L1141.2,418.4 L1143.5,418.9 L1145.8,421.4 L1148.1,426.7 L1150.3,430.3 L1152.6,431.3 L1154.9,433.4 L1157.2,438.2 L1159.5,445.2 L1161.7,451.8 L1164.0,457.0 L1166.3,462.2 L1168.6,468.6 L1170.9,476.8 L1173.1,486.4 L1175.4,492.7 L1177.7,495.5 L1180.0,501.4 L1182.3,509.8 L1184.5,516.7 L1186.8,521.4 L1189.1,526.6 L1191.4,533.8 L1193.7,542.6 L1195.9,550.3 L1198.2,557.0 L1200.5,563.8 L1202.8,569.6 L1205.1,577.3 L1207.3,588.7 L1209.6,599.6 L1211.9,609.4 L1214.2,619.1 L1216.5,625.1 L1218.7,628.5 L1221.0,636.8 L1223.3,649.2 L1225.6,657.0 L1227.9,659.6 L1230.1,664.1 L1232.4,672.4 L1234.7,681.2 L1237.0,689.8 L1239.3,698.7 L1241.5,706.9 L1243.8,716.8 L1246.1,728.0 L1248.4,737.1 L1250.7,746.7 L1252.9,757.1 L1255.2,765.3 L1257.5,771.0 L1259.8,777.3 L1262.1,786.3 L1264.3,796.2 L1266.6,802.1 L1268.9,806.3 L1271.2,814.9 L1273.5,826.4 L1275.7,838.0 L1278.0,848.2 L1280.3,854.0 L1282.6,856.3 L1284.9,859.7 L1287.1,866.0 L1289.4,876.0 L1291.7,888.2 L1294.0,897.6 L1296.3,900.2 L1298.5,902.3 L1300.8,910.1 L1303.1,919.0 L1305.4,925.3 L1307.7,932.0 L1309.9,940.1 L1312.2,947.3 L1314.5,952.5 L1316.8,958.2 L1319.1,965.0 L1321.3,970.6 L1323.6,975.5 L1325.9,981.9 L1328.2,990.8 L1330.5,999.3 L1332.7,1005.9 L1335.0,1014.0 L1337.3,1022.1 L1339.6,1027.6 L1341.9,1032.2 L1344.1,1038.4 L1346.4,1046.5 L1348.7,1051.6 L1351.0,1052.0 L1353.3,1052.2 L1355.5,1058.0 L1357.8,1067.7 L1360.1,1075.1 L1362.4,1078.7 L1364.7,1080.7 L1366.9,1082.2 L1369.2,1085.3 L1371.5,1090.0 L1373.8,1093.9 L1376.1,1098.5 L1378.3,1105.5 L1380.6,1110.1 L1382.9,1110.9 L1385.2,1113.5 L1387.5,1118.4 L1389.7,1121.5 L1392.0,1125.5 L1394.3,1132.7 L1396.6,1139.0 L1398.9,1144.3 L1401.1,1149.2 L1403.4,1150.5 L1405.7,1150.6 L1408.0,1152.1 L1410.3,1154.2 L1412.5,1157.6 L1414.8,1161.8 L1417.1,1165.3 L1419.4,1170.1 L1421.7,1176.0 L1423.9,1179.9 L1426.2,1181.8 L1428.5,1184.0 L1430.8,1187.1 L1433.1,1190.3 L1435.3,1192.9 L1437.6,1194.4 L1439.9,1194.0 L1442.2,1193.9 L1444.5,1196.0 L1446.7,1200.7 L1449.0,1206.3 L1451.3,1209.4 L1453.6,1209.6 L1455.9,1209.9 L1458.1,1210.6 L1460.4,1211.3 L1462.7,1212.7 L1465.0,1214.7 L1467.3,1216.8 L1469.5,1220.0 L1471.8,1222.4 L1474.1,1222.9 L1476.4,1223.8 L1478.7,1227.3 L1480.9,1231.7 L1483.2,1234.6 L1485.5,1237.5 L1487.8,1238.7 L1490.1,1238.1 L1492.3,1239.9 L1494.6,1244.4 L1496.9,1246.8 L1499.2,1246.2 L1501.5,1247.4 L1503.7,1250.9 L1506.0,1253.9 L1508.3,1255.0 L1510.6,1254.1 L1512.9,1253.7 L1515.1,1255.1 L1517.4,1256.8 L1519.7,1255.2 L1522.0,1254.0 L1524.3,1257.1 L1526.5,1262.0 L1528.8,1265.2 L1531.1,1265.5 L1533.4,1266.3 L1535.7,1268.9 L1537.9,1271.0 L1540.2,1271.5 L1542.5,1272.0 L1544.8,1272.0 L1547.1,1271.5 L1549.3,1271.7 L1551.6,1272.2 L1553.9,1273.2 L1556.2,1274.6 L1558.5,1276.0 L1560.7,1278.5 L1563.0,1279.9 L1565.3,1278.9 L1567.6,1278.3 L1569.9,1280.0 L1572.1,1282.7 L1574.4,1284.6 L1576.7,1285.5 L1579.0,1285.4 L1581.3,1284.4 L1583.5,1283.5 L1585.8,1283.8 L1588.1,1285.7 L1590.4,1287.1 L1592.7,1288.1 L1594.9,1288.9 L1597.2,1287.0 L1599.5,1284.1 L1601.8,1284.5 L1604.1,1287.7 L1606.3,1292.2 L1608.6,1294.3 L1610.9,1292.4 L1613.2,1290.7 L1615.5,1291.0 L1617.7,1292.6 L1620.0,1294.1 L1622.3,1294.1 L1624.6,1293.5 L1626.9,1293.4 L1629.1,1293.2 L1631.4,1294.3 L1633.7,1295.7 L1636.0,1294.7 L1638.3,1292.3 L1640.5,1291.5 L1642.8,1292.7 L1645.1,1294.6 L1647.4,1295.3 L1649.7,1295.0 L1651.9,1296.1 L1654.2,1297.8 L1656.5,1298.9 L1658.8,1299.9 L1661.1,1300.8 L1663.3,1300.9 L1665.6,1300.9 L1667.9,1301.1 L1670.2,1300.0 L1672.5,1298.4 L1674.7,1298.6 L1677.0,1298.4 L1679.3,1296.8 L1681.6,1295.0 L1683.9,1294.5 L1686.1,1296.1 L1688.4,1298.1 L1690.7,1299.2 L1693.0,1300.3 L1695.3,1302.3 L1697.5,1302.5 L1699.8,1301.0 L1702.1,1299.5 L1704.4,1298.7 L1706.7,1299.0 L1708.9,1300.3 L1711.2,1301.4 L1713.5,1301.1 L1715.8,1300.3 L1718.1,1300.7 L1720.3,1302.4 L1722.6,1305.3 L1724.9,1307.6 L1727.2,1306.4 L1729.5,1302.7 L1731.7,1299.5 L1734.0,1298.6 L1736.3,1300.2 L1738.6,1302.7 L1740.9,1303.6 L1743.1,1303.7 L1745.4,1304.3 L1747.7,1305.8 L1750.0,1306.5 L1752.3,1305.1 L1754.5,1303.9 L1756.8,1304.3 L1759.1,1304.6 L1761.4,1303.1 L1763.7,1301.3 L1765.9,1301.0 L1768.2,1303.4 L1770.5,1307.9 L1772.8,1310.3 L1775.1,1309.3 L1777.3,1308.4 L1779.6,1307.3 L1781.9,1305.8 L1784.2,1305.7 L1786.5,1306.6 L1788.7,1308.0 L1791.0,1308.6 L1793.3,1307.6 L1795.6,1307.8 L1797.9,1308.5 L1800.1,1308.7 L1802.4,1309.6 L1804.7,1310.8 L1807.0,1310.9 L1809.3,1310.5 L1811.5,1309.3 L1813.8,1309.3 L1816.1,1312.8 L1818.4,1315.7 L1820.7,1314.8 L1822.9,1311.7 L1825.2,1308.7 L1827.5,1307.6 L1829.8,1307.9 L1832.1,1309.1 L1834.3,1310.1 L1836.6,1309.3 L1838.9,1307.8 L1841.2,1307.2 L1843.5,1308.5 L1845.7,1309.6 L1848.0,1310.0 L1850.3,1311.3 L1852.6,1312.2 L1854.9,1310.4 L1857.1,1309.3 L1859.4,1311.5 L1861.7,1315.6 L1864.0,1317.2 L1866.3,1315.1 L1868.5,1312.8 L1870.8,1312.8 L1873.1,1313.9 L1875.4,1315.0 L1877.7,1316.9 L1879.9,1317.7 L1882.2,1316.9 L1884.5,1316.9 L1886.8,1317.5 L1889.1,1317.0 L1891.3,1315.8 L1893.6,1315.2 L1895.9,1314.3 L1898.2,1313.5 L1900.5,1313.6 L1902.7,1312.9 L1905.0,1311.3 L1907.3,1311.0 L1909.6,1313.9 L1911.9,1318.5 L1914.1,1320.8 L1916.4,1320.1 L1918.7,1318.2 L1921.0,1316.3 L1923.3,1315.3 L1925.5,1314.5 L1927.8,1313.2 L1930.1,1313.1 L1932.4,1314.0 L1934.7,1314.1 L1936.9,1314.2 L1939.2,1315.4 L1941.5,1316.7 L1943.8,1317.4 L1946.1,1316.8 L1948.3,1316.1 L1950.6,1315.8 L1952.9,1315.3 L1955.2,1315.0 L1957.5,1316.1 L1959.7,1318.2 L1962.0,1319.2 L1964.3,1317.9 L1966.6,1315.3 L1968.9,1314.7 L1971.1,1315.8 L1973.4,1316.5 L1975.7,1316.6 L1978.0,1317.4 L1980.3,1318.5 L1982.5,1318.3 L1984.8,1318.6 L1987.1,1320.5 L1989.4,1321.1 L1991.7,1320.5 L1993.9,1320.9"/>
</g>
<text class="lg" transform="translate(1622.9,216.8) scale(1,1.035)">Absorbance</text>
<text class="lg" transform="translate(1621.7,599.0) scale(1,1.035)">Emission</text>
<path class="c" stroke="#00ffff" stroke-dasharray="14.5 24.17" d="M1622.8,274.0 H1760"/>
<text class="lg" transform="translate(1785.0,295.7) scale(1,1.035)">A</text>
<path class="c" stroke="#0000ff" stroke-dasharray="14.5 24.17" d="M1622.8,352.9 H1760"/>
<text class="lg" transform="translate(1785.0,374.6) scale(1,1.035)">B</text>
<path class="c" stroke="#000000" stroke-dasharray="14.5 24.17" d="M1622.8,431.8 H1760"/>
<text class="lg" transform="translate(1785.0,453.5) scale(1,1.035)">C</text>
<path class="c" stroke="#ff0000" stroke-dasharray="14.5 24.17" d="M1622.8,510.8 H1760"/>
<text class="lg" transform="translate(1785.0,532.5) scale(1,1.035)">D</text>
<path class="c" stroke="#00ffff" d="M1622.8,657 H1767.1"/>
<text class="lg" transform="translate(1785.0,679.0) scale(1,1.035)">A</text>
<path class="c" stroke="#0000ff" d="M1622.8,735.9 H1767.1"/>
<text class="lg" transform="translate(1785.0,757.9) scale(1,1.035)">B</text>
<path class="c" stroke="#000000" d="M1622.8,815.2 H1767.1"/>
<text class="lg" transform="translate(1785.0,837.2) scale(1,1.035)">C</text>
<path class="c" stroke="#ff0000" d="M1622.8,894.3 H1767.1"/>
<text class="lg" transform="translate(1785.0,916.3) scale(1,1.035)">D</text>
<path d="M437,1079 H568" fill="none" stroke="#000" stroke-width="10" stroke-linecap="round" stroke-dasharray="14 25"/>
<path d="M382,1079.3 L427,1067.7 V1090.9 Z" fill="#000" stroke="#000" stroke-width="10" stroke-linejoin="round"/>
<path d="M1738,1079 H1905" fill="none" stroke="#000" stroke-width="10" stroke-linecap="round"/>
<path d="M1952.8,1079 L1908,1067.5 V1090.5 Z" fill="#000" stroke="#000" stroke-width="10" stroke-linejoin="round"/>
</svg></body></html>
